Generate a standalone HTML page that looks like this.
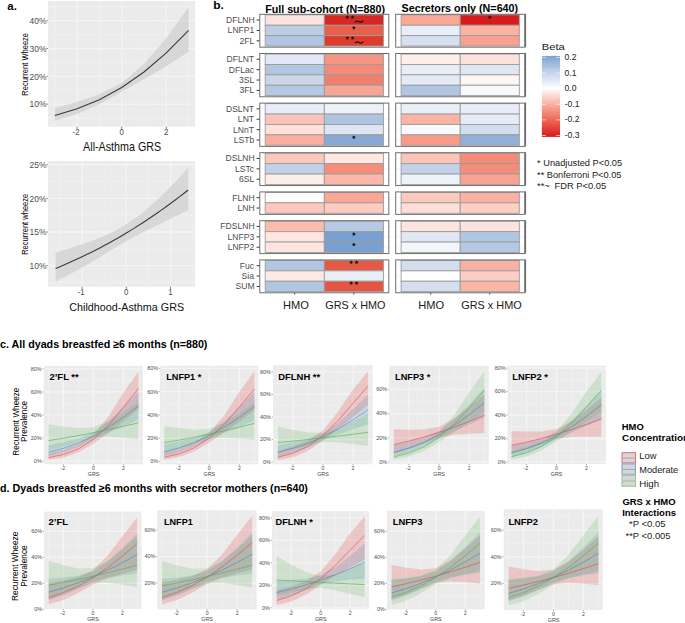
<!DOCTYPE html>
<html><head><meta charset="utf-8"><style>
html,body{margin:0;padding:0;background:#fff;width:685px;height:623px;overflow:hidden;}
svg{display:block;font-family:"Liberation Sans",sans-serif;}
</style></head><body>
<svg width="685" height="623" viewBox="0 0 685 623" font-family="Liberation Sans, sans-serif">
<rect x="48" y="1" width="147" height="125.7" fill="#EBEBEB"/>
<line x1="48" y1="118" x2="195" y2="118" stroke="#EFEFEF" stroke-width="1.3"/>
<line x1="48" y1="90.2" x2="195" y2="90.2" stroke="#EFEFEF" stroke-width="1.3"/>
<line x1="48" y1="62.4" x2="195" y2="62.4" stroke="#EFEFEF" stroke-width="1.3"/>
<line x1="48" y1="34.6" x2="195" y2="34.6" stroke="#EFEFEF" stroke-width="1.3"/>
<line x1="48" y1="6.8" x2="195" y2="6.8" stroke="#EFEFEF" stroke-width="1.3"/>
<line x1="54.8" y1="1" x2="54.8" y2="126.7" stroke="#EFEFEF" stroke-width="1.3"/>
<line x1="99.4" y1="1" x2="99.4" y2="126.7" stroke="#EFEFEF" stroke-width="1.3"/>
<line x1="144" y1="1" x2="144" y2="126.7" stroke="#EFEFEF" stroke-width="1.3"/>
<line x1="188.6" y1="1" x2="188.6" y2="126.7" stroke="#EFEFEF" stroke-width="1.3"/>
<line x1="48" y1="104.1" x2="195" y2="104.1" stroke="#F4F4F4" stroke-width="1.3"/>
<line x1="48" y1="76.3" x2="195" y2="76.3" stroke="#F4F4F4" stroke-width="1.3"/>
<line x1="48" y1="48.5" x2="195" y2="48.5" stroke="#F4F4F4" stroke-width="1.3"/>
<line x1="48" y1="20.7" x2="195" y2="20.7" stroke="#F4F4F4" stroke-width="1.3"/>
<line x1="77.1" y1="1" x2="77.1" y2="126.7" stroke="#F4F4F4" stroke-width="1.3"/>
<line x1="121.7" y1="1" x2="121.7" y2="126.7" stroke="#F4F4F4" stroke-width="1.3"/>
<line x1="166.3" y1="1" x2="166.3" y2="126.7" stroke="#F4F4F4" stroke-width="1.3"/>
<polygon points="54.8,108.12 77.1,102.08 99.4,94.32 121.7,82.89 144,64.01 166.3,37.99 188.6,7.01 188.6,51.76 166.3,66.2 144,79.28 121.7,91.84 99.4,104.31 77.1,114.09 54.8,120.69" fill="#D3D3D3" fill-opacity="0.85"/>
<polyline points="54.8,115.5 77.1,108.78 99.4,99.65 121.7,87.54 144,72 166.3,52.85 188.6,30.43" fill="none" stroke="#3A3A3A" stroke-width="1.1"/>
<line x1="46.7" y1="104.1" x2="48" y2="104.1" stroke="#333" stroke-width="0.6"/>
<text x="29.52" y="107.4" font-size="9.7" text-anchor="start" fill="#4D4D4D" textLength="16.89" lengthAdjust="spacingAndGlyphs">10%</text>
<line x1="46.7" y1="76.3" x2="48" y2="76.3" stroke="#333" stroke-width="0.6"/>
<text x="29.52" y="79.6" font-size="9.7" text-anchor="start" fill="#4D4D4D" textLength="16.89" lengthAdjust="spacingAndGlyphs">20%</text>
<line x1="46.7" y1="48.5" x2="48" y2="48.5" stroke="#333" stroke-width="0.6"/>
<text x="29.52" y="51.8" font-size="9.7" text-anchor="start" fill="#4D4D4D" textLength="16.89" lengthAdjust="spacingAndGlyphs">30%</text>
<line x1="46.7" y1="20.7" x2="48" y2="20.7" stroke="#333" stroke-width="0.6"/>
<text x="29.52" y="24" font-size="9.7" text-anchor="start" fill="#4D4D4D" textLength="16.89" lengthAdjust="spacingAndGlyphs">40%</text>
<line x1="77.1" y1="126.7" x2="77.1" y2="128.9" stroke="#333" stroke-width="0.6"/>
<text x="72.71" y="135.4" font-size="8.3" text-anchor="start" fill="#4D4D4D" textLength="7.01" lengthAdjust="spacingAndGlyphs">-2</text>
<line x1="121.7" y1="126.7" x2="121.7" y2="128.9" stroke="#333" stroke-width="0.6"/>
<text x="119.49" y="135.4" font-size="8.3" text-anchor="start" fill="#4D4D4D" textLength="4.39" lengthAdjust="spacingAndGlyphs">0</text>
<line x1="166.3" y1="126.7" x2="166.3" y2="128.9" stroke="#333" stroke-width="0.6"/>
<text x="164.11" y="135.4" font-size="8.3" text-anchor="start" fill="#4D4D4D" textLength="4.39" lengthAdjust="spacingAndGlyphs">2</text>
<text x="27.7" y="95.7" font-size="9" fill="#000" textLength="62.76" lengthAdjust="spacingAndGlyphs" transform="rotate(-90 27.7 95.7)">Recurrent Wheeze</text>
<text x="83.1" y="151" font-size="11.9" text-anchor="start" fill="#111" textLength="78.08" lengthAdjust="spacingAndGlyphs">All-Asthma GRS</text>
<text x="7.36" y="9.5" font-size="11.5" text-anchor="start" fill="#000" font-weight="bold" textLength="9.53" lengthAdjust="spacingAndGlyphs">a.</text>
<rect x="48" y="161" width="147" height="125.7" fill="#EBEBEB"/>
<line x1="48" y1="282.4" x2="195" y2="282.4" stroke="#EFEFEF" stroke-width="1.3"/>
<line x1="48" y1="248.8" x2="195" y2="248.8" stroke="#EFEFEF" stroke-width="1.3"/>
<line x1="48" y1="215.2" x2="195" y2="215.2" stroke="#EFEFEF" stroke-width="1.3"/>
<line x1="48" y1="181.6" x2="195" y2="181.6" stroke="#EFEFEF" stroke-width="1.3"/>
<line x1="60" y1="161" x2="60" y2="286.7" stroke="#EFEFEF" stroke-width="1.3"/>
<line x1="104.2" y1="161" x2="104.2" y2="286.7" stroke="#EFEFEF" stroke-width="1.3"/>
<line x1="148.4" y1="161" x2="148.4" y2="286.7" stroke="#EFEFEF" stroke-width="1.3"/>
<line x1="192.6" y1="161" x2="192.6" y2="286.7" stroke="#EFEFEF" stroke-width="1.3"/>
<line x1="48" y1="265.6" x2="195" y2="265.6" stroke="#F4F4F4" stroke-width="1.3"/>
<line x1="48" y1="232" x2="195" y2="232" stroke="#F4F4F4" stroke-width="1.3"/>
<line x1="48" y1="198.4" x2="195" y2="198.4" stroke="#F4F4F4" stroke-width="1.3"/>
<line x1="48" y1="164.8" x2="195" y2="164.8" stroke="#F4F4F4" stroke-width="1.3"/>
<line x1="82.1" y1="161" x2="82.1" y2="286.7" stroke="#F4F4F4" stroke-width="1.3"/>
<line x1="126.3" y1="161" x2="126.3" y2="286.7" stroke="#F4F4F4" stroke-width="1.3"/>
<line x1="170.5" y1="161" x2="170.5" y2="286.7" stroke="#F4F4F4" stroke-width="1.3"/>
<polygon points="55.58,252.76 60,251.45 64.42,250.1 68.84,248.73 73.26,247.31 77.68,245.86 82.1,244.36 86.52,242.81 90.94,241.2 95.36,239.52 99.78,237.76 104.2,235.89 108.62,233.9 113.04,231.77 117.46,229.46 121.88,226.96 126.3,224.24 130.72,221.31 135.14,218.19 139.56,214.88 143.98,211.39 148.4,207.71 152.82,203.86 157.24,199.84 161.66,195.66 166.08,191.33 170.5,186.84 174.92,182.2 179.34,177.43 183.76,172.52 188.18,167.47 188.18,210.2 183.76,212.34 179.34,214.47 174.92,216.6 170.5,218.73 166.08,220.86 161.66,223 157.24,225.16 152.82,227.33 148.4,229.54 143.98,231.78 139.56,234.07 135.14,236.4 130.72,238.79 126.3,241.24 121.88,243.75 117.46,246.35 113.04,249.01 108.62,251.71 104.2,254.42 99.78,257.13 95.36,259.82 90.94,262.46 86.52,265.06 82.1,267.59 77.68,270.07 73.26,272.47 68.84,274.81 64.42,277.08 60,279.27 55.58,281.39" fill="#D3D3D3" fill-opacity="0.85"/>
<polyline points="55.58,268.49 60,266.65 64.42,264.77 68.84,262.84 73.26,260.86 77.68,258.83 82.1,256.75 86.52,254.62 90.94,252.44 95.36,250.2 99.78,247.92 104.2,245.57 108.62,243.18 113.04,240.73 117.46,238.22 121.88,235.66 126.3,233.03 130.72,230.36 135.14,227.62 139.56,224.82 143.98,221.96 148.4,219.04 152.82,216.06 157.24,213.02 161.66,209.92 166.08,206.76 170.5,203.53 174.92,200.24 179.34,196.89 183.76,193.48 188.18,190" fill="none" stroke="#3A3A3A" stroke-width="1.1"/>
<line x1="46.7" y1="265.6" x2="48" y2="265.6" stroke="#333" stroke-width="0.6"/>
<text x="29.52" y="268.9" font-size="9.7" text-anchor="start" fill="#4D4D4D" textLength="16.89" lengthAdjust="spacingAndGlyphs">10%</text>
<line x1="46.7" y1="232" x2="48" y2="232" stroke="#333" stroke-width="0.6"/>
<text x="29.52" y="235.3" font-size="9.7" text-anchor="start" fill="#4D4D4D" textLength="16.89" lengthAdjust="spacingAndGlyphs">15%</text>
<line x1="46.7" y1="198.4" x2="48" y2="198.4" stroke="#333" stroke-width="0.6"/>
<text x="29.52" y="201.7" font-size="9.7" text-anchor="start" fill="#4D4D4D" textLength="16.89" lengthAdjust="spacingAndGlyphs">20%</text>
<line x1="46.7" y1="164.8" x2="48" y2="164.8" stroke="#333" stroke-width="0.6"/>
<text x="29.52" y="168.1" font-size="9.7" text-anchor="start" fill="#4D4D4D" textLength="16.89" lengthAdjust="spacingAndGlyphs">25%</text>
<line x1="82.1" y1="286.7" x2="82.1" y2="288.9" stroke="#333" stroke-width="0.6"/>
<text x="77.69" y="295.4" font-size="8.3" text-anchor="start" fill="#4D4D4D" textLength="7.01" lengthAdjust="spacingAndGlyphs">-1</text>
<line x1="126.3" y1="286.7" x2="126.3" y2="288.9" stroke="#333" stroke-width="0.6"/>
<text x="124.09" y="295.4" font-size="8.3" text-anchor="start" fill="#4D4D4D" textLength="4.39" lengthAdjust="spacingAndGlyphs">0</text>
<line x1="170.5" y1="286.7" x2="170.5" y2="288.9" stroke="#333" stroke-width="0.6"/>
<text x="168.19" y="295.4" font-size="8.3" text-anchor="start" fill="#4D4D4D" textLength="4.39" lengthAdjust="spacingAndGlyphs">1</text>
<text x="27.7" y="254.8" font-size="9" fill="#000" textLength="61.04" lengthAdjust="spacingAndGlyphs" transform="rotate(-90 27.7 254.8)">Recurrent wheeze</text>
<text x="69.26" y="311.3" font-size="11.3" text-anchor="start" fill="#111" textLength="114.84" lengthAdjust="spacingAndGlyphs">Childhood-Asthma GRS</text>
<text x="213.23" y="9.4" font-size="11.4" text-anchor="start" fill="#000" font-weight="bold" textLength="10.59" lengthAdjust="spacingAndGlyphs">b.</text>
<text x="265.2" y="12.5" font-size="11" text-anchor="start" fill="#000" font-weight="bold" textLength="119.78" lengthAdjust="spacingAndGlyphs">Full sub-cohort (N=880)</text>
<text x="401.58" y="12.2" font-size="11" text-anchor="start" fill="#000" font-weight="bold" textLength="116.52" lengthAdjust="spacingAndGlyphs">Secretors only (N=640)</text>
<rect x="259.3" y="13.8" width="130.02" height="33.28" fill="#FFFFFF"/>
<line x1="259.3" y1="20.04" x2="265.21" y2="20.04" stroke="#EBEBEB" stroke-width="0.5"/>
<line x1="383.41" y1="20.04" x2="389.32" y2="20.04" stroke="#EBEBEB" stroke-width="0.5"/>
<line x1="259.3" y1="30.44" x2="265.21" y2="30.44" stroke="#EBEBEB" stroke-width="0.5"/>
<line x1="383.41" y1="30.44" x2="389.32" y2="30.44" stroke="#EBEBEB" stroke-width="0.5"/>
<line x1="259.3" y1="40.84" x2="265.21" y2="40.84" stroke="#EBEBEB" stroke-width="0.5"/>
<line x1="383.41" y1="40.84" x2="389.32" y2="40.84" stroke="#EBEBEB" stroke-width="0.5"/>
<rect x="265.21" y="14.84" width="59.1" height="10.4" fill="#FDE3DD" stroke="#9C9C9C" stroke-width="0.9"/>
<rect x="324.31" y="14.84" width="59.1" height="10.4" fill="#DA2622" stroke="#9C9C9C" stroke-width="0.9"/>
<rect x="265.21" y="25.24" width="59.1" height="10.4" fill="#BCCDE5" stroke="#9C9C9C" stroke-width="0.9"/>
<rect x="324.31" y="25.24" width="59.1" height="10.4" fill="#E8604B" stroke="#9C9C9C" stroke-width="0.9"/>
<rect x="265.21" y="35.64" width="59.1" height="10.4" fill="#B2C6E2" stroke="#9C9C9C" stroke-width="0.9"/>
<rect x="324.31" y="35.64" width="59.1" height="10.4" fill="#DF3B2D" stroke="#9C9C9C" stroke-width="0.9"/>
<rect x="259.8" y="14.3" width="129.02" height="32.88" fill="none" stroke="#6E6E6E" stroke-width="1"/>
<polygon points="347.36,15.09 347.93,16.46 349.4,16.58 348.28,17.54 348.62,18.98 347.36,18.21 346.1,18.98 346.44,17.54 345.32,16.58 346.79,16.46" fill="#111"/>
<polygon points="352.56,15.09 353.13,16.46 354.6,16.58 353.48,17.54 353.82,18.98 352.56,18.21 351.3,18.98 351.64,17.54 350.52,16.58 351.99,16.46" fill="#111"/>
<path d="M355.06 22.36 C356.7 20.2 357.93 20.92 359.16 21.64 S362.03 22.84 363.26 20.68" fill="none" stroke="#111" stroke-width="1.25"/>
<polygon points="353.86,25.59 354.43,26.96 355.9,27.08 354.78,28.04 355.12,29.48 353.86,28.71 352.6,29.48 352.94,28.04 351.82,27.08 353.29,26.96" fill="#111"/>
<polygon points="347.36,35.89 347.93,37.26 349.4,37.38 348.28,38.34 348.62,39.78 347.36,39.01 346.1,39.78 346.44,38.34 345.32,37.38 346.79,37.26" fill="#111"/>
<polygon points="352.56,35.89 353.13,37.26 354.6,37.38 353.48,38.34 353.82,39.78 352.56,39.01 351.3,39.78 351.64,38.34 350.52,37.38 351.99,37.26" fill="#111"/>
<path d="M355.06 43.16 C356.7 41 357.93 41.72 359.16 42.44 S362.03 43.64 363.26 41.48" fill="none" stroke="#111" stroke-width="1.25"/>
<rect x="259.3" y="53" width="130.02" height="43.68" fill="#FFFFFF"/>
<line x1="259.3" y1="59.24" x2="265.21" y2="59.24" stroke="#EBEBEB" stroke-width="0.5"/>
<line x1="383.41" y1="59.24" x2="389.32" y2="59.24" stroke="#EBEBEB" stroke-width="0.5"/>
<line x1="259.3" y1="69.64" x2="265.21" y2="69.64" stroke="#EBEBEB" stroke-width="0.5"/>
<line x1="383.41" y1="69.64" x2="389.32" y2="69.64" stroke="#EBEBEB" stroke-width="0.5"/>
<line x1="259.3" y1="80.04" x2="265.21" y2="80.04" stroke="#EBEBEB" stroke-width="0.5"/>
<line x1="383.41" y1="80.04" x2="389.32" y2="80.04" stroke="#EBEBEB" stroke-width="0.5"/>
<line x1="259.3" y1="90.44" x2="265.21" y2="90.44" stroke="#EBEBEB" stroke-width="0.5"/>
<line x1="383.41" y1="90.44" x2="389.32" y2="90.44" stroke="#EBEBEB" stroke-width="0.5"/>
<rect x="265.21" y="54.04" width="59.1" height="10.4" fill="#E2E9F4" stroke="#9C9C9C" stroke-width="0.9"/>
<rect x="324.31" y="54.04" width="59.1" height="10.4" fill="#F59583" stroke="#9C9C9C" stroke-width="0.9"/>
<rect x="265.21" y="64.44" width="59.1" height="10.4" fill="#B2C6E2" stroke="#9C9C9C" stroke-width="0.9"/>
<rect x="324.31" y="64.44" width="59.1" height="10.4" fill="#F48A78" stroke="#9C9C9C" stroke-width="0.9"/>
<rect x="265.21" y="74.84" width="59.1" height="10.4" fill="#CAD7EB" stroke="#9C9C9C" stroke-width="0.9"/>
<rect x="324.31" y="74.84" width="59.1" height="10.4" fill="#F07F6D" stroke="#9C9C9C" stroke-width="0.9"/>
<rect x="265.21" y="85.24" width="59.1" height="10.4" fill="#B6C9E3" stroke="#9C9C9C" stroke-width="0.9"/>
<rect x="324.31" y="85.24" width="59.1" height="10.4" fill="#F8A596" stroke="#9C9C9C" stroke-width="0.9"/>
<rect x="259.8" y="53.5" width="129.02" height="43.28" fill="none" stroke="#6E6E6E" stroke-width="1"/>
<rect x="259.3" y="102.6" width="130.02" height="43.68" fill="#FFFFFF"/>
<line x1="259.3" y1="108.84" x2="265.21" y2="108.84" stroke="#EBEBEB" stroke-width="0.5"/>
<line x1="383.41" y1="108.84" x2="389.32" y2="108.84" stroke="#EBEBEB" stroke-width="0.5"/>
<line x1="259.3" y1="119.24" x2="265.21" y2="119.24" stroke="#EBEBEB" stroke-width="0.5"/>
<line x1="383.41" y1="119.24" x2="389.32" y2="119.24" stroke="#EBEBEB" stroke-width="0.5"/>
<line x1="259.3" y1="129.64" x2="265.21" y2="129.64" stroke="#EBEBEB" stroke-width="0.5"/>
<line x1="383.41" y1="129.64" x2="389.32" y2="129.64" stroke="#EBEBEB" stroke-width="0.5"/>
<line x1="259.3" y1="140.04" x2="265.21" y2="140.04" stroke="#EBEBEB" stroke-width="0.5"/>
<line x1="383.41" y1="140.04" x2="389.32" y2="140.04" stroke="#EBEBEB" stroke-width="0.5"/>
<rect x="265.21" y="103.64" width="59.1" height="10.4" fill="#E8EEF7" stroke="#9C9C9C" stroke-width="0.9"/>
<rect x="324.31" y="103.64" width="59.1" height="10.4" fill="#EEF1F8" stroke="#9C9C9C" stroke-width="0.9"/>
<rect x="265.21" y="114.04" width="59.1" height="10.4" fill="#FCC3B8" stroke="#9C9C9C" stroke-width="0.9"/>
<rect x="324.31" y="114.04" width="59.1" height="10.4" fill="#AFC4E2" stroke="#9C9C9C" stroke-width="0.9"/>
<rect x="265.21" y="124.44" width="59.1" height="10.4" fill="#FDE1DA" stroke="#9C9C9C" stroke-width="0.9"/>
<rect x="324.31" y="124.44" width="59.1" height="10.4" fill="#DFE6F3" stroke="#9C9C9C" stroke-width="0.9"/>
<rect x="265.21" y="134.84" width="59.1" height="10.4" fill="#FBAE9E" stroke="#9C9C9C" stroke-width="0.9"/>
<rect x="324.31" y="134.84" width="59.1" height="10.4" fill="#88A9D3" stroke="#9C9C9C" stroke-width="0.9"/>
<rect x="259.8" y="103.1" width="129.02" height="43.28" fill="none" stroke="#6E6E6E" stroke-width="1"/>
<polygon points="353.86,135.19 354.43,136.56 355.9,136.68 354.78,137.64 355.12,139.08 353.86,138.31 352.6,139.08 352.94,137.64 351.82,136.68 353.29,136.56" fill="#111"/>
<rect x="259.3" y="152.2" width="130.02" height="33.28" fill="#FFFFFF"/>
<line x1="259.3" y1="158.44" x2="265.21" y2="158.44" stroke="#EBEBEB" stroke-width="0.5"/>
<line x1="383.41" y1="158.44" x2="389.32" y2="158.44" stroke="#EBEBEB" stroke-width="0.5"/>
<line x1="259.3" y1="168.84" x2="265.21" y2="168.84" stroke="#EBEBEB" stroke-width="0.5"/>
<line x1="383.41" y1="168.84" x2="389.32" y2="168.84" stroke="#EBEBEB" stroke-width="0.5"/>
<line x1="259.3" y1="179.24" x2="265.21" y2="179.24" stroke="#EBEBEB" stroke-width="0.5"/>
<line x1="383.41" y1="179.24" x2="389.32" y2="179.24" stroke="#EBEBEB" stroke-width="0.5"/>
<rect x="265.21" y="153.24" width="59.1" height="10.4" fill="#FCC8BE" stroke="#9C9C9C" stroke-width="0.9"/>
<rect x="324.31" y="153.24" width="59.1" height="10.4" fill="#FEE7E1" stroke="#9C9C9C" stroke-width="0.9"/>
<rect x="265.21" y="163.64" width="59.1" height="10.4" fill="#C2D1E8" stroke="#9C9C9C" stroke-width="0.9"/>
<rect x="324.31" y="163.64" width="59.1" height="10.4" fill="#F58D7A" stroke="#9C9C9C" stroke-width="0.9"/>
<rect x="265.21" y="174.04" width="59.1" height="10.4" fill="#FEEEEA" stroke="#9C9C9C" stroke-width="0.9"/>
<rect x="324.31" y="174.04" width="59.1" height="10.4" fill="#FBB8AA" stroke="#9C9C9C" stroke-width="0.9"/>
<rect x="259.8" y="152.7" width="129.02" height="32.88" fill="none" stroke="#6E6E6E" stroke-width="1"/>
<rect x="259.3" y="191.4" width="130.02" height="22.88" fill="#FFFFFF"/>
<line x1="259.3" y1="197.64" x2="265.21" y2="197.64" stroke="#EBEBEB" stroke-width="0.5"/>
<line x1="383.41" y1="197.64" x2="389.32" y2="197.64" stroke="#EBEBEB" stroke-width="0.5"/>
<line x1="259.3" y1="208.04" x2="265.21" y2="208.04" stroke="#EBEBEB" stroke-width="0.5"/>
<line x1="383.41" y1="208.04" x2="389.32" y2="208.04" stroke="#EBEBEB" stroke-width="0.5"/>
<rect x="265.21" y="192.44" width="59.1" height="10.4" fill="#FEFDFD" stroke="#9C9C9C" stroke-width="0.9"/>
<rect x="324.31" y="192.44" width="59.1" height="10.4" fill="#FBA797" stroke="#9C9C9C" stroke-width="0.9"/>
<rect x="265.21" y="202.84" width="59.1" height="10.4" fill="#FCC8BE" stroke="#9C9C9C" stroke-width="0.9"/>
<rect x="324.31" y="202.84" width="59.1" height="10.4" fill="#FDCBC1" stroke="#9C9C9C" stroke-width="0.9"/>
<rect x="259.8" y="191.9" width="129.02" height="22.48" fill="none" stroke="#6E6E6E" stroke-width="1"/>
<rect x="259.3" y="220.2" width="130.02" height="33.28" fill="#FFFFFF"/>
<line x1="259.3" y1="226.44" x2="265.21" y2="226.44" stroke="#EBEBEB" stroke-width="0.5"/>
<line x1="383.41" y1="226.44" x2="389.32" y2="226.44" stroke="#EBEBEB" stroke-width="0.5"/>
<line x1="259.3" y1="236.84" x2="265.21" y2="236.84" stroke="#EBEBEB" stroke-width="0.5"/>
<line x1="383.41" y1="236.84" x2="389.32" y2="236.84" stroke="#EBEBEB" stroke-width="0.5"/>
<line x1="259.3" y1="247.24" x2="265.21" y2="247.24" stroke="#EBEBEB" stroke-width="0.5"/>
<line x1="383.41" y1="247.24" x2="389.32" y2="247.24" stroke="#EBEBEB" stroke-width="0.5"/>
<rect x="265.21" y="221.24" width="59.1" height="10.4" fill="#FBBCAE" stroke="#9C9C9C" stroke-width="0.9"/>
<rect x="324.31" y="221.24" width="59.1" height="10.4" fill="#B7CAE5" stroke="#9C9C9C" stroke-width="0.9"/>
<rect x="265.21" y="231.64" width="59.1" height="10.4" fill="#FEE7E2" stroke="#9C9C9C" stroke-width="0.9"/>
<rect x="324.31" y="231.64" width="59.1" height="10.4" fill="#78A0D1" stroke="#9C9C9C" stroke-width="0.9"/>
<rect x="265.21" y="242.04" width="59.1" height="10.4" fill="#FEE5E0" stroke="#9C9C9C" stroke-width="0.9"/>
<rect x="324.31" y="242.04" width="59.1" height="10.4" fill="#79A0D0" stroke="#9C9C9C" stroke-width="0.9"/>
<rect x="259.8" y="220.7" width="129.02" height="32.88" fill="none" stroke="#6E6E6E" stroke-width="1"/>
<polygon points="353.86,231.99 354.43,233.36 355.9,233.48 354.78,234.44 355.12,235.88 353.86,235.11 352.6,235.88 352.94,234.44 351.82,233.48 353.29,233.36" fill="#111"/>
<polygon points="353.86,242.39 354.43,243.76 355.9,243.88 354.78,244.84 355.12,246.28 353.86,245.51 352.6,246.28 352.94,244.84 351.82,243.88 353.29,243.76" fill="#111"/>
<rect x="259.3" y="259.4" width="130.02" height="33.28" fill="#FFFFFF"/>
<line x1="259.3" y1="265.64" x2="265.21" y2="265.64" stroke="#EBEBEB" stroke-width="0.5"/>
<line x1="383.41" y1="265.64" x2="389.32" y2="265.64" stroke="#EBEBEB" stroke-width="0.5"/>
<line x1="259.3" y1="276.04" x2="265.21" y2="276.04" stroke="#EBEBEB" stroke-width="0.5"/>
<line x1="383.41" y1="276.04" x2="389.32" y2="276.04" stroke="#EBEBEB" stroke-width="0.5"/>
<line x1="259.3" y1="286.44" x2="265.21" y2="286.44" stroke="#EBEBEB" stroke-width="0.5"/>
<line x1="383.41" y1="286.44" x2="389.32" y2="286.44" stroke="#EBEBEB" stroke-width="0.5"/>
<rect x="265.21" y="260.44" width="59.1" height="10.4" fill="#B1C6E3" stroke="#9C9C9C" stroke-width="0.9"/>
<rect x="324.31" y="260.44" width="59.1" height="10.4" fill="#E65A45" stroke="#9C9C9C" stroke-width="0.9"/>
<rect x="265.21" y="270.84" width="59.1" height="10.4" fill="#FEEAE5" stroke="#9C9C9C" stroke-width="0.9"/>
<rect x="324.31" y="270.84" width="59.1" height="10.4" fill="#E8EEF7" stroke="#9C9C9C" stroke-width="0.9"/>
<rect x="265.21" y="281.24" width="59.1" height="10.4" fill="#B1C6E3" stroke="#9C9C9C" stroke-width="0.9"/>
<rect x="324.31" y="281.24" width="59.1" height="10.4" fill="#E55542" stroke="#9C9C9C" stroke-width="0.9"/>
<rect x="259.8" y="259.9" width="129.02" height="32.88" fill="none" stroke="#6E6E6E" stroke-width="1"/>
<polygon points="351.16,260.19 351.73,261.56 353.2,261.68 352.08,262.64 352.42,264.08 351.16,263.31 349.9,264.08 350.24,262.64 349.12,261.68 350.59,261.56" fill="#111"/>
<polygon points="356.56,260.19 357.13,261.56 358.6,261.68 357.48,262.64 357.82,264.08 356.56,263.31 355.3,264.08 355.64,262.64 354.52,261.68 355.99,261.56" fill="#111"/>
<polygon points="351.16,280.99 351.73,282.36 353.2,282.48 352.08,283.44 352.42,284.88 351.16,284.11 349.9,284.88 350.24,283.44 349.12,282.48 350.59,282.36" fill="#111"/>
<polygon points="356.56,280.99 357.13,282.36 358.6,282.48 357.48,283.44 357.82,284.88 356.56,284.11 355.3,284.88 355.64,283.44 354.52,282.48 355.99,282.36" fill="#111"/>
<line x1="256.6" y1="20.04" x2="259.3" y2="20.04" stroke="#333" stroke-width="1"/>
<text x="226.05" y="22.94" font-size="8.4" text-anchor="start" fill="#4D4D4D" textLength="28.56" lengthAdjust="spacingAndGlyphs">DFLNH</text>
<line x1="256.6" y1="30.44" x2="259.3" y2="30.44" stroke="#333" stroke-width="1"/>
<text x="227.64" y="33.34" font-size="8.4" text-anchor="start" fill="#4D4D4D" textLength="26.67" lengthAdjust="spacingAndGlyphs">LNFP1</text>
<line x1="256.6" y1="40.84" x2="259.3" y2="40.84" stroke="#333" stroke-width="1"/>
<text x="239.42" y="43.74" font-size="8.4" text-anchor="start" fill="#4D4D4D" textLength="14.76" lengthAdjust="spacingAndGlyphs">2FL</text>
<line x1="256.6" y1="59.24" x2="259.3" y2="59.24" stroke="#333" stroke-width="1"/>
<text x="226.48" y="62.14" font-size="8.4" text-anchor="start" fill="#4D4D4D" textLength="27.61" lengthAdjust="spacingAndGlyphs">DFLNT</text>
<line x1="256.6" y1="69.64" x2="259.3" y2="69.64" stroke="#333" stroke-width="1"/>
<text x="228.88" y="72.54" font-size="8.4" text-anchor="start" fill="#4D4D4D" textLength="25.24" lengthAdjust="spacingAndGlyphs">DFLac</text>
<line x1="256.6" y1="80.04" x2="259.3" y2="80.04" stroke="#333" stroke-width="1"/>
<text x="238.91" y="82.94" font-size="8.4" text-anchor="start" fill="#4D4D4D" textLength="15.25" lengthAdjust="spacingAndGlyphs">3SL</text>
<line x1="256.6" y1="90.44" x2="259.3" y2="90.44" stroke="#333" stroke-width="1"/>
<text x="239.42" y="93.34" font-size="8.4" text-anchor="start" fill="#4D4D4D" textLength="14.76" lengthAdjust="spacingAndGlyphs">3FL</text>
<line x1="256.6" y1="108.84" x2="259.3" y2="108.84" stroke="#333" stroke-width="1"/>
<text x="225.97" y="111.74" font-size="8.4" text-anchor="start" fill="#4D4D4D" textLength="28.09" lengthAdjust="spacingAndGlyphs">DSLNT</text>
<line x1="256.6" y1="119.24" x2="259.3" y2="119.24" stroke="#333" stroke-width="1"/>
<text x="237.88" y="122.14" font-size="8.4" text-anchor="start" fill="#4D4D4D" textLength="16.19" lengthAdjust="spacingAndGlyphs">LNT</text>
<line x1="256.6" y1="129.64" x2="259.3" y2="129.64" stroke="#333" stroke-width="1"/>
<text x="233.12" y="132.54" font-size="8.4" text-anchor="start" fill="#4D4D4D" textLength="20.95" lengthAdjust="spacingAndGlyphs">LNnT</text>
<line x1="256.6" y1="140.04" x2="259.3" y2="140.04" stroke="#333" stroke-width="1"/>
<text x="233.77" y="142.94" font-size="8.4" text-anchor="start" fill="#4D4D4D" textLength="20.48" lengthAdjust="spacingAndGlyphs">LSTb</text>
<line x1="256.6" y1="158.44" x2="259.3" y2="158.44" stroke="#333" stroke-width="1"/>
<text x="225.54" y="161.34" font-size="8.4" text-anchor="start" fill="#4D4D4D" textLength="29.04" lengthAdjust="spacingAndGlyphs">DSLNH</text>
<line x1="256.6" y1="168.84" x2="259.3" y2="168.84" stroke="#333" stroke-width="1"/>
<text x="235.05" y="171.74" font-size="8.4" text-anchor="start" fill="#4D4D4D" textLength="19.05" lengthAdjust="spacingAndGlyphs">LSTc</text>
<line x1="256.6" y1="179.24" x2="259.3" y2="179.24" stroke="#333" stroke-width="1"/>
<text x="238.91" y="182.14" font-size="8.4" text-anchor="start" fill="#4D4D4D" textLength="15.25" lengthAdjust="spacingAndGlyphs">6SL</text>
<line x1="256.6" y1="197.64" x2="259.3" y2="197.64" stroke="#333" stroke-width="1"/>
<text x="232.22" y="200.54" font-size="8.4" text-anchor="start" fill="#4D4D4D" textLength="22.37" lengthAdjust="spacingAndGlyphs">FLNH</text>
<line x1="256.6" y1="208.04" x2="259.3" y2="208.04" stroke="#333" stroke-width="1"/>
<text x="237.45" y="210.94" font-size="8.4" text-anchor="start" fill="#4D4D4D" textLength="17.14" lengthAdjust="spacingAndGlyphs">LNH</text>
<line x1="256.6" y1="226.44" x2="259.3" y2="226.44" stroke="#333" stroke-width="1"/>
<text x="220.31" y="229.34" font-size="8.4" text-anchor="start" fill="#4D4D4D" textLength="34.28" lengthAdjust="spacingAndGlyphs">FDSLNH</text>
<line x1="256.6" y1="236.84" x2="259.3" y2="236.84" stroke="#333" stroke-width="1"/>
<text x="227.6" y="239.74" font-size="8.4" text-anchor="start" fill="#4D4D4D" textLength="26.67" lengthAdjust="spacingAndGlyphs">LNFP3</text>
<line x1="256.6" y1="247.24" x2="259.3" y2="247.24" stroke="#333" stroke-width="1"/>
<text x="227.68" y="250.14" font-size="8.4" text-anchor="start" fill="#4D4D4D" textLength="26.67" lengthAdjust="spacingAndGlyphs">LNFP2</text>
<line x1="256.6" y1="265.64" x2="259.3" y2="265.64" stroke="#333" stroke-width="1"/>
<text x="239.85" y="268.54" font-size="8.4" text-anchor="start" fill="#4D4D4D" textLength="14.28" lengthAdjust="spacingAndGlyphs">Fuc</text>
<line x1="256.6" y1="276.04" x2="259.3" y2="276.04" stroke="#333" stroke-width="1"/>
<text x="241.52" y="278.94" font-size="8.4" text-anchor="start" fill="#4D4D4D" textLength="12.38" lengthAdjust="spacingAndGlyphs">Sia</text>
<line x1="256.6" y1="286.44" x2="259.3" y2="286.44" stroke="#333" stroke-width="1"/>
<text x="235.56" y="289.34" font-size="8.4" text-anchor="start" fill="#4D4D4D" textLength="19.04" lengthAdjust="spacingAndGlyphs">SUM</text>
<rect x="395.2" y="13.8" width="130.02" height="33.28" fill="#FFFFFF"/>
<line x1="395.2" y1="20.04" x2="401.11" y2="20.04" stroke="#EBEBEB" stroke-width="0.5"/>
<line x1="519.31" y1="20.04" x2="525.22" y2="20.04" stroke="#EBEBEB" stroke-width="0.5"/>
<line x1="395.2" y1="30.44" x2="401.11" y2="30.44" stroke="#EBEBEB" stroke-width="0.5"/>
<line x1="519.31" y1="30.44" x2="525.22" y2="30.44" stroke="#EBEBEB" stroke-width="0.5"/>
<line x1="395.2" y1="40.84" x2="401.11" y2="40.84" stroke="#EBEBEB" stroke-width="0.5"/>
<line x1="519.31" y1="40.84" x2="525.22" y2="40.84" stroke="#EBEBEB" stroke-width="0.5"/>
<rect x="401.11" y="14.84" width="59.1" height="10.4" fill="#FBA897" stroke="#9C9C9C" stroke-width="0.9"/>
<rect x="460.21" y="14.84" width="59.1" height="10.4" fill="#D91A1C" stroke="#9C9C9C" stroke-width="0.9"/>
<rect x="401.11" y="25.24" width="59.1" height="10.4" fill="#E8EEF7" stroke="#9C9C9C" stroke-width="0.9"/>
<rect x="460.21" y="25.24" width="59.1" height="10.4" fill="#FCB2A3" stroke="#9C9C9C" stroke-width="0.9"/>
<rect x="401.11" y="35.64" width="59.1" height="10.4" fill="#D6E0EF" stroke="#9C9C9C" stroke-width="0.9"/>
<rect x="460.21" y="35.64" width="59.1" height="10.4" fill="#F9A08F" stroke="#9C9C9C" stroke-width="0.9"/>
<rect x="395.7" y="14.3" width="129.02" height="32.88" fill="none" stroke="#6E6E6E" stroke-width="1"/>
<line x1="525.52" y1="13.8" x2="525.52" y2="47.08" stroke="#6E6E6E" stroke-width="1.2"/>
<polygon points="489.76,15.19 490.33,16.56 491.8,16.68 490.68,17.64 491.02,19.08 489.76,18.31 488.5,19.08 488.84,17.64 487.72,16.68 489.19,16.56" fill="#111"/>
<rect x="395.2" y="53" width="130.02" height="43.68" fill="#FFFFFF"/>
<line x1="395.2" y1="59.24" x2="401.11" y2="59.24" stroke="#EBEBEB" stroke-width="0.5"/>
<line x1="519.31" y1="59.24" x2="525.22" y2="59.24" stroke="#EBEBEB" stroke-width="0.5"/>
<line x1="395.2" y1="69.64" x2="401.11" y2="69.64" stroke="#EBEBEB" stroke-width="0.5"/>
<line x1="519.31" y1="69.64" x2="525.22" y2="69.64" stroke="#EBEBEB" stroke-width="0.5"/>
<line x1="395.2" y1="80.04" x2="401.11" y2="80.04" stroke="#EBEBEB" stroke-width="0.5"/>
<line x1="519.31" y1="80.04" x2="525.22" y2="80.04" stroke="#EBEBEB" stroke-width="0.5"/>
<line x1="395.2" y1="90.44" x2="401.11" y2="90.44" stroke="#EBEBEB" stroke-width="0.5"/>
<line x1="519.31" y1="90.44" x2="525.22" y2="90.44" stroke="#EBEBEB" stroke-width="0.5"/>
<rect x="401.11" y="54.04" width="59.1" height="10.4" fill="#FEEFEB" stroke="#9C9C9C" stroke-width="0.9"/>
<rect x="460.21" y="54.04" width="59.1" height="10.4" fill="#FDE2DB" stroke="#9C9C9C" stroke-width="0.9"/>
<rect x="401.11" y="64.44" width="59.1" height="10.4" fill="#E8EEF7" stroke="#9C9C9C" stroke-width="0.9"/>
<rect x="460.21" y="64.44" width="59.1" height="10.4" fill="#DFE6F3" stroke="#9C9C9C" stroke-width="0.9"/>
<rect x="401.11" y="74.84" width="59.1" height="10.4" fill="#E4EBF5" stroke="#9C9C9C" stroke-width="0.9"/>
<rect x="460.21" y="74.84" width="59.1" height="10.4" fill="#FEF6F4" stroke="#9C9C9C" stroke-width="0.9"/>
<rect x="401.11" y="85.24" width="59.1" height="10.4" fill="#B1C6E2" stroke="#9C9C9C" stroke-width="0.9"/>
<rect x="460.21" y="85.24" width="59.1" height="10.4" fill="#F7F8FB" stroke="#9C9C9C" stroke-width="0.9"/>
<rect x="395.7" y="53.5" width="129.02" height="43.28" fill="none" stroke="#6E6E6E" stroke-width="1"/>
<line x1="525.52" y1="53" x2="525.52" y2="96.68" stroke="#6E6E6E" stroke-width="1.2"/>
<rect x="395.2" y="102.6" width="130.02" height="43.68" fill="#FFFFFF"/>
<line x1="395.2" y1="108.84" x2="401.11" y2="108.84" stroke="#EBEBEB" stroke-width="0.5"/>
<line x1="519.31" y1="108.84" x2="525.22" y2="108.84" stroke="#EBEBEB" stroke-width="0.5"/>
<line x1="395.2" y1="119.24" x2="401.11" y2="119.24" stroke="#EBEBEB" stroke-width="0.5"/>
<line x1="519.31" y1="119.24" x2="525.22" y2="119.24" stroke="#EBEBEB" stroke-width="0.5"/>
<line x1="395.2" y1="129.64" x2="401.11" y2="129.64" stroke="#EBEBEB" stroke-width="0.5"/>
<line x1="519.31" y1="129.64" x2="525.22" y2="129.64" stroke="#EBEBEB" stroke-width="0.5"/>
<line x1="395.2" y1="140.04" x2="401.11" y2="140.04" stroke="#EBEBEB" stroke-width="0.5"/>
<line x1="519.31" y1="140.04" x2="525.22" y2="140.04" stroke="#EBEBEB" stroke-width="0.5"/>
<rect x="401.11" y="103.64" width="59.1" height="10.4" fill="#EBF0F8" stroke="#9C9C9C" stroke-width="0.9"/>
<rect x="460.21" y="103.64" width="59.1" height="10.4" fill="#E8EDF7" stroke="#9C9C9C" stroke-width="0.9"/>
<rect x="401.11" y="114.04" width="59.1" height="10.4" fill="#FBB3A4" stroke="#9C9C9C" stroke-width="0.9"/>
<rect x="460.21" y="114.04" width="59.1" height="10.4" fill="#E6ECF6" stroke="#9C9C9C" stroke-width="0.9"/>
<rect x="401.11" y="124.44" width="59.1" height="10.4" fill="#F8FAFD" stroke="#9C9C9C" stroke-width="0.9"/>
<rect x="460.21" y="124.44" width="59.1" height="10.4" fill="#D2DDEE" stroke="#9C9C9C" stroke-width="0.9"/>
<rect x="401.11" y="134.84" width="59.1" height="10.4" fill="#F99A86" stroke="#9C9C9C" stroke-width="0.9"/>
<rect x="460.21" y="134.84" width="59.1" height="10.4" fill="#92AFD8" stroke="#9C9C9C" stroke-width="0.9"/>
<rect x="395.7" y="103.1" width="129.02" height="43.28" fill="none" stroke="#6E6E6E" stroke-width="1"/>
<line x1="525.52" y1="102.6" x2="525.52" y2="146.28" stroke="#6E6E6E" stroke-width="1.2"/>
<rect x="395.2" y="152.2" width="130.02" height="33.28" fill="#FFFFFF"/>
<line x1="395.2" y1="158.44" x2="401.11" y2="158.44" stroke="#EBEBEB" stroke-width="0.5"/>
<line x1="519.31" y1="158.44" x2="525.22" y2="158.44" stroke="#EBEBEB" stroke-width="0.5"/>
<line x1="395.2" y1="168.84" x2="401.11" y2="168.84" stroke="#EBEBEB" stroke-width="0.5"/>
<line x1="519.31" y1="168.84" x2="525.22" y2="168.84" stroke="#EBEBEB" stroke-width="0.5"/>
<line x1="395.2" y1="179.24" x2="401.11" y2="179.24" stroke="#EBEBEB" stroke-width="0.5"/>
<line x1="519.31" y1="179.24" x2="525.22" y2="179.24" stroke="#EBEBEB" stroke-width="0.5"/>
<rect x="401.11" y="153.24" width="59.1" height="10.4" fill="#FCC3B7" stroke="#9C9C9C" stroke-width="0.9"/>
<rect x="460.21" y="153.24" width="59.1" height="10.4" fill="#F58A77" stroke="#9C9C9C" stroke-width="0.9"/>
<rect x="401.11" y="163.64" width="59.1" height="10.4" fill="#C3D2E9" stroke="#9C9C9C" stroke-width="0.9"/>
<rect x="460.21" y="163.64" width="59.1" height="10.4" fill="#F58C79" stroke="#9C9C9C" stroke-width="0.9"/>
<rect x="401.11" y="174.04" width="59.1" height="10.4" fill="#EEF2F9" stroke="#9C9C9C" stroke-width="0.9"/>
<rect x="460.21" y="174.04" width="59.1" height="10.4" fill="#F8A291" stroke="#9C9C9C" stroke-width="0.9"/>
<rect x="395.7" y="152.7" width="129.02" height="32.88" fill="none" stroke="#6E6E6E" stroke-width="1"/>
<line x1="525.52" y1="152.2" x2="525.52" y2="185.48" stroke="#6E6E6E" stroke-width="1.2"/>
<rect x="395.2" y="191.4" width="130.02" height="22.88" fill="#FFFFFF"/>
<line x1="395.2" y1="197.64" x2="401.11" y2="197.64" stroke="#EBEBEB" stroke-width="0.5"/>
<line x1="519.31" y1="197.64" x2="525.22" y2="197.64" stroke="#EBEBEB" stroke-width="0.5"/>
<line x1="395.2" y1="208.04" x2="401.11" y2="208.04" stroke="#EBEBEB" stroke-width="0.5"/>
<line x1="519.31" y1="208.04" x2="525.22" y2="208.04" stroke="#EBEBEB" stroke-width="0.5"/>
<rect x="401.11" y="192.44" width="59.1" height="10.4" fill="#FCC9BF" stroke="#9C9C9C" stroke-width="0.9"/>
<rect x="460.21" y="192.44" width="59.1" height="10.4" fill="#FBB0A1" stroke="#9C9C9C" stroke-width="0.9"/>
<rect x="401.11" y="202.84" width="59.1" height="10.4" fill="#FDDFD8" stroke="#9C9C9C" stroke-width="0.9"/>
<rect x="460.21" y="202.84" width="59.1" height="10.4" fill="#FCCEC4" stroke="#9C9C9C" stroke-width="0.9"/>
<rect x="395.7" y="191.9" width="129.02" height="22.48" fill="none" stroke="#6E6E6E" stroke-width="1"/>
<line x1="525.52" y1="191.4" x2="525.52" y2="214.28" stroke="#6E6E6E" stroke-width="1.2"/>
<rect x="395.2" y="220.2" width="130.02" height="33.28" fill="#FFFFFF"/>
<line x1="395.2" y1="226.44" x2="401.11" y2="226.44" stroke="#EBEBEB" stroke-width="0.5"/>
<line x1="519.31" y1="226.44" x2="525.22" y2="226.44" stroke="#EBEBEB" stroke-width="0.5"/>
<line x1="395.2" y1="236.84" x2="401.11" y2="236.84" stroke="#EBEBEB" stroke-width="0.5"/>
<line x1="519.31" y1="236.84" x2="525.22" y2="236.84" stroke="#EBEBEB" stroke-width="0.5"/>
<line x1="395.2" y1="247.24" x2="401.11" y2="247.24" stroke="#EBEBEB" stroke-width="0.5"/>
<line x1="519.31" y1="247.24" x2="525.22" y2="247.24" stroke="#EBEBEB" stroke-width="0.5"/>
<rect x="401.11" y="221.24" width="59.1" height="10.4" fill="#FDE4DE" stroke="#9C9C9C" stroke-width="0.9"/>
<rect x="460.21" y="221.24" width="59.1" height="10.4" fill="#FDE3DD" stroke="#9C9C9C" stroke-width="0.9"/>
<rect x="401.11" y="231.64" width="59.1" height="10.4" fill="#E1E8F4" stroke="#9C9C9C" stroke-width="0.9"/>
<rect x="460.21" y="231.64" width="59.1" height="10.4" fill="#B1C6E3" stroke="#9C9C9C" stroke-width="0.9"/>
<rect x="401.11" y="242.04" width="59.1" height="10.4" fill="#F3F6FB" stroke="#9C9C9C" stroke-width="0.9"/>
<rect x="460.21" y="242.04" width="59.1" height="10.4" fill="#B5C9E4" stroke="#9C9C9C" stroke-width="0.9"/>
<rect x="395.7" y="220.7" width="129.02" height="32.88" fill="none" stroke="#6E6E6E" stroke-width="1"/>
<line x1="525.52" y1="220.2" x2="525.52" y2="253.48" stroke="#6E6E6E" stroke-width="1.2"/>
<rect x="395.2" y="259.4" width="130.02" height="33.28" fill="#FFFFFF"/>
<line x1="395.2" y1="265.64" x2="401.11" y2="265.64" stroke="#EBEBEB" stroke-width="0.5"/>
<line x1="519.31" y1="265.64" x2="525.22" y2="265.64" stroke="#EBEBEB" stroke-width="0.5"/>
<line x1="395.2" y1="276.04" x2="401.11" y2="276.04" stroke="#EBEBEB" stroke-width="0.5"/>
<line x1="519.31" y1="276.04" x2="525.22" y2="276.04" stroke="#EBEBEB" stroke-width="0.5"/>
<line x1="395.2" y1="286.44" x2="401.11" y2="286.44" stroke="#EBEBEB" stroke-width="0.5"/>
<line x1="519.31" y1="286.44" x2="525.22" y2="286.44" stroke="#EBEBEB" stroke-width="0.5"/>
<rect x="401.11" y="260.44" width="59.1" height="10.4" fill="#D2DDEE" stroke="#9C9C9C" stroke-width="0.9"/>
<rect x="460.21" y="260.44" width="59.1" height="10.4" fill="#FBB1A1" stroke="#9C9C9C" stroke-width="0.9"/>
<rect x="401.11" y="270.84" width="59.1" height="10.4" fill="#FEFEFE" stroke="#9C9C9C" stroke-width="0.9"/>
<rect x="460.21" y="270.84" width="59.1" height="10.4" fill="#FCCDC4" stroke="#9C9C9C" stroke-width="0.9"/>
<rect x="401.11" y="281.24" width="59.1" height="10.4" fill="#D4DEEF" stroke="#9C9C9C" stroke-width="0.9"/>
<rect x="460.21" y="281.24" width="59.1" height="10.4" fill="#FBB5A7" stroke="#9C9C9C" stroke-width="0.9"/>
<rect x="395.7" y="259.9" width="129.02" height="32.88" fill="none" stroke="#6E6E6E" stroke-width="1"/>
<line x1="525.52" y1="259.4" x2="525.52" y2="292.68" stroke="#6E6E6E" stroke-width="1.2"/>
<line x1="294.6" y1="292.6" x2="294.6" y2="294.6" stroke="#333" stroke-width="0.8"/>
<line x1="353.8" y1="292.6" x2="353.8" y2="294.6" stroke="#333" stroke-width="0.8"/>
<line x1="430.7" y1="292.6" x2="430.7" y2="294.6" stroke="#333" stroke-width="0.8"/>
<line x1="489.7" y1="292.6" x2="489.7" y2="294.6" stroke="#333" stroke-width="0.8"/>
<text x="282.91" y="308.9" font-size="10.9" text-anchor="start" fill="#1A1A1A" textLength="25.92" lengthAdjust="spacingAndGlyphs">HMO</text>
<text x="325.26" y="308.9" font-size="10.9" text-anchor="start" fill="#1A1A1A" textLength="60.24" lengthAdjust="spacingAndGlyphs">GRS x HMO</text>
<text x="418.21" y="308.9" font-size="10.9" text-anchor="start" fill="#1A1A1A" textLength="25.92" lengthAdjust="spacingAndGlyphs">HMO</text>
<text x="461.16" y="308.9" font-size="10.9" text-anchor="start" fill="#1A1A1A" textLength="60.54" lengthAdjust="spacingAndGlyphs">GRS x HMO</text>
<defs><linearGradient id="beta" x1="0" y1="1" x2="0" y2="0"><stop offset="0" stop-color="#D7191C"/><stop offset="0.2" stop-color="#EC6555"/><stop offset="0.4" stop-color="#F9AE9F"/><stop offset="0.6" stop-color="#FFFFFF"/><stop offset="0.8" stop-color="#C3D2E9"/><stop offset="1" stop-color="#7EA1D0"/></linearGradient></defs>
<rect x="541.9" y="55.9" width="18.1" height="81" fill="url(#beta)"/>
<text x="541.8" y="49.7" font-size="9.5" text-anchor="start" fill="#1A1A1A" textLength="23.02" lengthAdjust="spacingAndGlyphs">Beta</text>
<line x1="541.9" y1="57.4" x2="546" y2="57.4" stroke="#FFFFFF" stroke-width="0.6"/>
<line x1="556.2" y1="57.4" x2="560" y2="57.4" stroke="#FFFFFF" stroke-width="0.6"/>
<text x="564.56" y="59.9" font-size="8.8" text-anchor="start" fill="#1A1A1A" textLength="11.99" lengthAdjust="spacingAndGlyphs">0.2</text>
<line x1="541.9" y1="73.02" x2="546" y2="73.02" stroke="#FFFFFF" stroke-width="0.6"/>
<line x1="556.2" y1="73.02" x2="560" y2="73.02" stroke="#FFFFFF" stroke-width="0.6"/>
<text x="564.56" y="75.52" font-size="8.8" text-anchor="start" fill="#1A1A1A" textLength="11.99" lengthAdjust="spacingAndGlyphs">0.1</text>
<line x1="541.9" y1="88.64" x2="546" y2="88.64" stroke="#FFFFFF" stroke-width="0.6"/>
<line x1="556.2" y1="88.64" x2="560" y2="88.64" stroke="#FFFFFF" stroke-width="0.6"/>
<text x="564.56" y="91.14" font-size="8.8" text-anchor="start" fill="#1A1A1A" textLength="11.99" lengthAdjust="spacingAndGlyphs">0.0</text>
<line x1="541.9" y1="104.26" x2="546" y2="104.26" stroke="#FFFFFF" stroke-width="0.6"/>
<line x1="556.2" y1="104.26" x2="560" y2="104.26" stroke="#FFFFFF" stroke-width="0.6"/>
<text x="564.71" y="106.76" font-size="8.8" text-anchor="start" fill="#1A1A1A" textLength="14.86" lengthAdjust="spacingAndGlyphs">-0.1</text>
<line x1="541.9" y1="119.88" x2="546" y2="119.88" stroke="#FFFFFF" stroke-width="0.6"/>
<line x1="556.2" y1="119.88" x2="560" y2="119.88" stroke="#FFFFFF" stroke-width="0.6"/>
<text x="564.71" y="122.38" font-size="8.8" text-anchor="start" fill="#1A1A1A" textLength="14.86" lengthAdjust="spacingAndGlyphs">-0.2</text>
<line x1="541.9" y1="135.5" x2="546" y2="135.5" stroke="#FFFFFF" stroke-width="0.6"/>
<line x1="556.2" y1="135.5" x2="560" y2="135.5" stroke="#FFFFFF" stroke-width="0.6"/>
<text x="564.71" y="138" font-size="8.8" text-anchor="start" fill="#1A1A1A" textLength="14.86" lengthAdjust="spacingAndGlyphs">-0.3</text>
<text x="537.06" y="166.4" font-size="8.5" text-anchor="start" fill="#222" textLength="85.12" lengthAdjust="spacingAndGlyphs">* Unadjusted P&lt;0.05</text>
<text x="537.06" y="177.5" font-size="8.5" text-anchor="start" fill="#222" textLength="84.41" lengthAdjust="spacingAndGlyphs">** Bonferroni P&lt;0.05</text>
<text x="537.06" y="188.6" font-size="8.5" text-anchor="start" fill="#222" textLength="12.84" lengthAdjust="spacingAndGlyphs">**~</text>
<text x="554.45" y="188.6" font-size="8.5" text-anchor="start" fill="#222" textLength="51.73" lengthAdjust="spacingAndGlyphs">FDR P&lt;0.05</text>
<g>
<rect x="43.8" y="366" width="99.2" height="98.3" fill="#EBEBEB"/>
<clipPath id="cp378"><rect x="43.8" y="366" width="99.2" height="98.3"/></clipPath>
<line x1="43.8" y1="449.65" x2="143" y2="449.65" stroke="#F0F0F0" stroke-width="1"/>
<line x1="43.8" y1="426.55" x2="143" y2="426.55" stroke="#F0F0F0" stroke-width="1"/>
<line x1="43.8" y1="403.45" x2="143" y2="403.45" stroke="#F0F0F0" stroke-width="1"/>
<line x1="43.8" y1="380.35" x2="143" y2="380.35" stroke="#F0F0F0" stroke-width="1"/>
<line x1="48.5" y1="366" x2="48.5" y2="464.3" stroke="#F0F0F0" stroke-width="1"/>
<line x1="78.5" y1="366" x2="78.5" y2="464.3" stroke="#F0F0F0" stroke-width="1"/>
<line x1="108.5" y1="366" x2="108.5" y2="464.3" stroke="#F0F0F0" stroke-width="1"/>
<line x1="138.5" y1="366" x2="138.5" y2="464.3" stroke="#F0F0F0" stroke-width="1"/>
<line x1="43.8" y1="461.2" x2="143" y2="461.2" stroke="#F5F5F5" stroke-width="1.2"/>
<line x1="43.8" y1="438.1" x2="143" y2="438.1" stroke="#F5F5F5" stroke-width="1.2"/>
<line x1="43.8" y1="415" x2="143" y2="415" stroke="#F5F5F5" stroke-width="1.2"/>
<line x1="43.8" y1="391.9" x2="143" y2="391.9" stroke="#F5F5F5" stroke-width="1.2"/>
<line x1="43.8" y1="368.8" x2="143" y2="368.8" stroke="#F5F5F5" stroke-width="1.2"/>
<line x1="63.5" y1="366" x2="63.5" y2="464.3" stroke="#F5F5F5" stroke-width="1.2"/>
<line x1="93.5" y1="366" x2="93.5" y2="464.3" stroke="#F5F5F5" stroke-width="1.2"/>
<line x1="123.5" y1="366" x2="123.5" y2="464.3" stroke="#F5F5F5" stroke-width="1.2"/>
<g clip-path="url(#cp378)">
<polygon points="48.5,453.16 63.5,449.5 78.5,444.08 93.5,434.57 108.5,416.4 123.5,392.48 138.5,371.38 138.5,408.86 123.5,421.46 108.5,432.98 93.5,443.44 78.5,452.32 63.5,457.38 48.5,459.64" fill="#E41A1C" fill-opacity="0.18"/>
<polygon points="48.5,445.37 63.5,442.3 78.5,438.44 93.5,432.29 108.5,421.36 123.5,406.98 138.5,391.61 138.5,419.85 123.5,426.4 108.5,432.73 93.5,439.38 78.5,446.75 63.5,452.54 48.5,456.22" fill="#377EB8" fill-opacity="0.18"/>
<polygon points="48.5,424.14 63.5,426.41 78.5,428.01 93.5,427.21 108.5,421.26 123.5,412.13 138.5,401.81 138.5,439.35 123.5,437.84 108.5,436.75 93.5,437.51 78.5,441.76 63.5,446.71 48.5,450.77" fill="#4DAF4A" fill-opacity="0.18"/>
<polyline points="48.5,457.62 63.5,454.45 78.5,448.79 93.5,439.34 108.5,425.21 123.5,407.2 138.5,388.44" fill="none" stroke="#E6474C" stroke-width="0.62"/>
<polyline points="48.5,452.19 63.5,448.28 78.5,442.97 93.5,436.01 108.5,427.32 123.5,417.1 138.5,405.88" fill="none" stroke="#4A84BE" stroke-width="0.62"/>
<polyline points="48.5,440.64 63.5,438.2 78.5,435.54 93.5,432.67 108.5,429.59 123.5,426.31 138.5,422.85" fill="none" stroke="#52B04F" stroke-width="0.62"/>
</g>
<line x1="42.5" y1="461.2" x2="43.8" y2="461.2" stroke="#555" stroke-width="0.5"/>
<text x="33.88" y="463" font-size="5.15" text-anchor="start" fill="#4D4D4D" textLength="7.82" lengthAdjust="spacingAndGlyphs">0%</text>
<line x1="42.5" y1="438.1" x2="43.8" y2="438.1" stroke="#555" stroke-width="0.5"/>
<text x="30.87" y="439.9" font-size="5.15" text-anchor="start" fill="#4D4D4D" textLength="10.82" lengthAdjust="spacingAndGlyphs">20%</text>
<line x1="42.5" y1="415" x2="43.8" y2="415" stroke="#555" stroke-width="0.5"/>
<text x="30.87" y="416.8" font-size="5.15" text-anchor="start" fill="#4D4D4D" textLength="10.82" lengthAdjust="spacingAndGlyphs">40%</text>
<line x1="42.5" y1="391.9" x2="43.8" y2="391.9" stroke="#555" stroke-width="0.5"/>
<text x="30.87" y="393.7" font-size="5.15" text-anchor="start" fill="#4D4D4D" textLength="10.82" lengthAdjust="spacingAndGlyphs">60%</text>
<line x1="42.5" y1="368.8" x2="43.8" y2="368.8" stroke="#555" stroke-width="0.5"/>
<text x="30.87" y="370.6" font-size="5.15" text-anchor="start" fill="#4D4D4D" textLength="10.82" lengthAdjust="spacingAndGlyphs">80%</text>
<line x1="63.5" y1="464.3" x2="63.5" y2="465.6" stroke="#555" stroke-width="0.5"/>
<text x="60.6" y="470.1" font-size="5.2" text-anchor="start" fill="#4D4D4D" textLength="4.62" lengthAdjust="spacingAndGlyphs">-2</text>
<line x1="93.5" y1="464.3" x2="93.5" y2="465.6" stroke="#555" stroke-width="0.5"/>
<text x="92.04" y="470.1" font-size="5.2" text-anchor="start" fill="#4D4D4D" textLength="2.89" lengthAdjust="spacingAndGlyphs">0</text>
<line x1="123.5" y1="464.3" x2="123.5" y2="465.6" stroke="#555" stroke-width="0.5"/>
<text x="122.06" y="470.1" font-size="5.2" text-anchor="start" fill="#4D4D4D" textLength="2.89" lengthAdjust="spacingAndGlyphs">2</text>
<text x="87.73" y="476" font-size="6" text-anchor="start" fill="#444" textLength="11.62" lengthAdjust="spacingAndGlyphs">GRS</text>
<text x="49.47" y="380.1" font-size="8.84" text-anchor="start" fill="#000" font-weight="bold" textLength="29.27" lengthAdjust="spacingAndGlyphs">2’FL **</text>
</g>
<g>
<rect x="160.1" y="365.8" width="98.3" height="98.5" fill="#EBEBEB"/>
<clipPath id="cp424"><rect x="160.1" y="365.8" width="98.3" height="98.5"/></clipPath>
<line x1="160.1" y1="449.95" x2="258.4" y2="449.95" stroke="#F0F0F0" stroke-width="1"/>
<line x1="160.1" y1="426.65" x2="258.4" y2="426.65" stroke="#F0F0F0" stroke-width="1"/>
<line x1="160.1" y1="403.35" x2="258.4" y2="403.35" stroke="#F0F0F0" stroke-width="1"/>
<line x1="160.1" y1="380.05" x2="258.4" y2="380.05" stroke="#F0F0F0" stroke-width="1"/>
<line x1="164.15" y1="365.8" x2="164.15" y2="464.3" stroke="#F0F0F0" stroke-width="1"/>
<line x1="194.25" y1="365.8" x2="194.25" y2="464.3" stroke="#F0F0F0" stroke-width="1"/>
<line x1="224.35" y1="365.8" x2="224.35" y2="464.3" stroke="#F0F0F0" stroke-width="1"/>
<line x1="254.45" y1="365.8" x2="254.45" y2="464.3" stroke="#F0F0F0" stroke-width="1"/>
<line x1="160.1" y1="461.6" x2="258.4" y2="461.6" stroke="#F5F5F5" stroke-width="1.2"/>
<line x1="160.1" y1="438.3" x2="258.4" y2="438.3" stroke="#F5F5F5" stroke-width="1.2"/>
<line x1="160.1" y1="415" x2="258.4" y2="415" stroke="#F5F5F5" stroke-width="1.2"/>
<line x1="160.1" y1="391.7" x2="258.4" y2="391.7" stroke="#F5F5F5" stroke-width="1.2"/>
<line x1="160.1" y1="368.4" x2="258.4" y2="368.4" stroke="#F5F5F5" stroke-width="1.2"/>
<line x1="179.2" y1="365.8" x2="179.2" y2="464.3" stroke="#F5F5F5" stroke-width="1.2"/>
<line x1="209.3" y1="365.8" x2="209.3" y2="464.3" stroke="#F5F5F5" stroke-width="1.2"/>
<line x1="239.4" y1="365.8" x2="239.4" y2="464.3" stroke="#F5F5F5" stroke-width="1.2"/>
<g clip-path="url(#cp424)">
<polygon points="164.15,452.42 179.2,448.51 194.25,442.82 209.3,433.12 224.35,415.14 239.4,391.78 254.45,371.2 254.45,410.24 239.4,421.69 224.35,432.35 209.3,442.49 194.25,451.56 179.2,457.02 164.15,459.62" fill="#E41A1C" fill-opacity="0.18"/>
<polygon points="164.15,444.49 179.2,441.51 194.25,437.78 209.3,431.82 224.35,421.13 239.4,407.1 254.45,392.08 254.45,420.53 239.4,426.66 224.35,432.64 209.3,439.08 194.25,446.43 179.2,452.34 164.15,456.18" fill="#377EB8" fill-opacity="0.18"/>
<polygon points="164.15,425.88 179.2,428.11 194.25,429.69 209.3,428.8 224.35,422.59 239.4,413.14 254.45,402.4 254.45,439.77 239.4,438.58 224.35,437.82 209.3,438.86 194.25,443.37 179.2,448.41 164.15,452.4" fill="#4DAF4A" fill-opacity="0.18"/>
<polyline points="164.15,457.29 179.2,453.78 194.25,447.78 209.3,438.15 224.35,424.26 239.4,406.97 254.45,389.02" fill="none" stroke="#E6474C" stroke-width="0.62"/>
<polyline points="164.15,451.81 179.2,447.82 194.25,442.5 209.3,435.63 224.35,427.17 239.4,417.3 254.45,406.5" fill="none" stroke="#4A84BE" stroke-width="0.62"/>
<polyline points="164.15,442.61 179.2,440.05 194.25,437.23 209.3,434.15 224.35,430.8 239.4,427.21 254.45,423.39" fill="none" stroke="#52B04F" stroke-width="0.62"/>
</g>
<line x1="158.8" y1="461.6" x2="160.1" y2="461.6" stroke="#555" stroke-width="0.5"/>
<text x="150.18" y="463.4" font-size="5.15" text-anchor="start" fill="#4D4D4D" textLength="7.82" lengthAdjust="spacingAndGlyphs">0%</text>
<line x1="158.8" y1="438.3" x2="160.1" y2="438.3" stroke="#555" stroke-width="0.5"/>
<text x="147.17" y="440.1" font-size="5.15" text-anchor="start" fill="#4D4D4D" textLength="10.82" lengthAdjust="spacingAndGlyphs">20%</text>
<line x1="158.8" y1="415" x2="160.1" y2="415" stroke="#555" stroke-width="0.5"/>
<text x="147.17" y="416.8" font-size="5.15" text-anchor="start" fill="#4D4D4D" textLength="10.82" lengthAdjust="spacingAndGlyphs">40%</text>
<line x1="158.8" y1="391.7" x2="160.1" y2="391.7" stroke="#555" stroke-width="0.5"/>
<text x="147.17" y="393.5" font-size="5.15" text-anchor="start" fill="#4D4D4D" textLength="10.82" lengthAdjust="spacingAndGlyphs">60%</text>
<line x1="158.8" y1="368.4" x2="160.1" y2="368.4" stroke="#555" stroke-width="0.5"/>
<text x="147.17" y="370.2" font-size="5.15" text-anchor="start" fill="#4D4D4D" textLength="10.82" lengthAdjust="spacingAndGlyphs">80%</text>
<line x1="179.2" y1="464.3" x2="179.2" y2="465.6" stroke="#555" stroke-width="0.5"/>
<text x="176.3" y="470.1" font-size="5.2" text-anchor="start" fill="#4D4D4D" textLength="4.62" lengthAdjust="spacingAndGlyphs">-2</text>
<line x1="209.3" y1="464.3" x2="209.3" y2="465.6" stroke="#555" stroke-width="0.5"/>
<text x="207.84" y="470.1" font-size="5.2" text-anchor="start" fill="#4D4D4D" textLength="2.89" lengthAdjust="spacingAndGlyphs">0</text>
<line x1="239.4" y1="464.3" x2="239.4" y2="465.6" stroke="#555" stroke-width="0.5"/>
<text x="237.96" y="470.1" font-size="5.2" text-anchor="start" fill="#4D4D4D" textLength="2.89" lengthAdjust="spacingAndGlyphs">2</text>
<text x="203.53" y="476" font-size="6" text-anchor="start" fill="#444" textLength="11.62" lengthAdjust="spacingAndGlyphs">GRS</text>
<text x="166.21" y="380.3" font-size="8.84" text-anchor="start" fill="#000" font-weight="bold" textLength="35.03" lengthAdjust="spacingAndGlyphs">LNFP1 *</text>
</g>
<g>
<rect x="273" y="365.3" width="99.6" height="99" fill="#EBEBEB"/>
<clipPath id="cp470"><rect x="273" y="365.3" width="99.6" height="99"/></clipPath>
<line x1="273" y1="450.83" x2="372.6" y2="450.83" stroke="#F0F0F0" stroke-width="1"/>
<line x1="273" y1="428.28" x2="372.6" y2="428.28" stroke="#F0F0F0" stroke-width="1"/>
<line x1="273" y1="405.73" x2="372.6" y2="405.73" stroke="#F0F0F0" stroke-width="1"/>
<line x1="273" y1="383.18" x2="372.6" y2="383.18" stroke="#F0F0F0" stroke-width="1"/>
<line x1="277.75" y1="365.3" x2="277.75" y2="464.3" stroke="#F0F0F0" stroke-width="1"/>
<line x1="307.85" y1="365.3" x2="307.85" y2="464.3" stroke="#F0F0F0" stroke-width="1"/>
<line x1="337.95" y1="365.3" x2="337.95" y2="464.3" stroke="#F0F0F0" stroke-width="1"/>
<line x1="368.05" y1="365.3" x2="368.05" y2="464.3" stroke="#F0F0F0" stroke-width="1"/>
<line x1="273" y1="462.1" x2="372.6" y2="462.1" stroke="#F5F5F5" stroke-width="1.2"/>
<line x1="273" y1="439.55" x2="372.6" y2="439.55" stroke="#F5F5F5" stroke-width="1.2"/>
<line x1="273" y1="417" x2="372.6" y2="417" stroke="#F5F5F5" stroke-width="1.2"/>
<line x1="273" y1="394.45" x2="372.6" y2="394.45" stroke="#F5F5F5" stroke-width="1.2"/>
<line x1="273" y1="371.9" x2="372.6" y2="371.9" stroke="#F5F5F5" stroke-width="1.2"/>
<line x1="292.8" y1="365.3" x2="292.8" y2="464.3" stroke="#F5F5F5" stroke-width="1.2"/>
<line x1="322.9" y1="365.3" x2="322.9" y2="464.3" stroke="#F5F5F5" stroke-width="1.2"/>
<line x1="353" y1="365.3" x2="353" y2="464.3" stroke="#F5F5F5" stroke-width="1.2"/>
<g clip-path="url(#cp470)">
<polygon points="277.75,450.88 292.8,446.6 307.85,440.59 322.9,430.39 337.95,411.85 353,389.54 368.05,371.19 368.05,404.98 353,417.24 337.95,429.08 322.9,440.47 307.85,450.93 292.8,457.21 277.75,460.08" fill="#E41A1C" fill-opacity="0.18"/>
<polygon points="277.75,444.99 292.8,442.23 307.85,438.8 322.9,433.25 337.95,422.98 353,409.32 368.05,394.71 368.05,424.29 353,429.42 337.95,434.51 322.9,440.28 307.85,447.24 292.8,452.93 277.75,456.65" fill="#377EB8" fill-opacity="0.18"/>
<polygon points="277.75,426.04 292.8,429.64 307.85,432.49 322.9,432.98 337.95,428.7 353,421.57 368.05,413.16 368.05,445.9 353,443.97 337.95,442.27 322.9,442.11 307.85,445.22 292.8,449.17 277.75,452.5" fill="#4DAF4A" fill-opacity="0.18"/>
<polyline points="277.75,457.25 292.8,453.26 307.85,446.46 322.9,435.76 337.95,420.85 353,403.24 368.05,386.11" fill="none" stroke="#E6474C" stroke-width="0.62"/>
<polyline points="277.75,452.29 292.8,448.46 307.85,443.4 322.9,436.94 337.95,429.04 353,419.85 368.05,409.78" fill="none" stroke="#4A84BE" stroke-width="0.62"/>
<polyline points="277.75,442.59 292.8,441.1 307.85,439.52 322.9,437.86 337.95,436.1 353,434.26 368.05,432.33" fill="none" stroke="#52B04F" stroke-width="0.62"/>
</g>
<line x1="271.7" y1="462.1" x2="273" y2="462.1" stroke="#555" stroke-width="0.5"/>
<text x="263.08" y="463.9" font-size="5.15" text-anchor="start" fill="#4D4D4D" textLength="7.82" lengthAdjust="spacingAndGlyphs">0%</text>
<line x1="271.7" y1="439.55" x2="273" y2="439.55" stroke="#555" stroke-width="0.5"/>
<text x="260.07" y="441.35" font-size="5.15" text-anchor="start" fill="#4D4D4D" textLength="10.82" lengthAdjust="spacingAndGlyphs">20%</text>
<line x1="271.7" y1="417" x2="273" y2="417" stroke="#555" stroke-width="0.5"/>
<text x="260.07" y="418.8" font-size="5.15" text-anchor="start" fill="#4D4D4D" textLength="10.82" lengthAdjust="spacingAndGlyphs">40%</text>
<line x1="271.7" y1="394.45" x2="273" y2="394.45" stroke="#555" stroke-width="0.5"/>
<text x="260.07" y="396.25" font-size="5.15" text-anchor="start" fill="#4D4D4D" textLength="10.82" lengthAdjust="spacingAndGlyphs">60%</text>
<line x1="271.7" y1="371.9" x2="273" y2="371.9" stroke="#555" stroke-width="0.5"/>
<text x="260.07" y="373.7" font-size="5.15" text-anchor="start" fill="#4D4D4D" textLength="10.82" lengthAdjust="spacingAndGlyphs">80%</text>
<line x1="292.8" y1="464.3" x2="292.8" y2="465.6" stroke="#555" stroke-width="0.5"/>
<text x="289.9" y="470.1" font-size="5.2" text-anchor="start" fill="#4D4D4D" textLength="4.62" lengthAdjust="spacingAndGlyphs">-2</text>
<line x1="322.9" y1="464.3" x2="322.9" y2="465.6" stroke="#555" stroke-width="0.5"/>
<text x="321.44" y="470.1" font-size="5.2" text-anchor="start" fill="#4D4D4D" textLength="2.89" lengthAdjust="spacingAndGlyphs">0</text>
<line x1="353" y1="464.3" x2="353" y2="465.6" stroke="#555" stroke-width="0.5"/>
<text x="351.56" y="470.1" font-size="5.2" text-anchor="start" fill="#4D4D4D" textLength="2.89" lengthAdjust="spacingAndGlyphs">2</text>
<text x="317.13" y="476" font-size="6" text-anchor="start" fill="#444" textLength="11.62" lengthAdjust="spacingAndGlyphs">GRS</text>
<text x="278.29" y="380.1" font-size="8.84" text-anchor="start" fill="#000" font-weight="bold" textLength="41.85" lengthAdjust="spacingAndGlyphs">DFLNH **</text>
</g>
<g>
<rect x="389.2" y="365.8" width="99.6" height="98.1" fill="#EBEBEB"/>
<clipPath id="cp516"><rect x="389.2" y="365.8" width="99.6" height="98.1"/></clipPath>
<line x1="389.2" y1="449.98" x2="488.8" y2="449.98" stroke="#F0F0F0" stroke-width="1"/>
<line x1="389.2" y1="425.74" x2="488.8" y2="425.74" stroke="#F0F0F0" stroke-width="1"/>
<line x1="389.2" y1="401.5" x2="488.8" y2="401.5" stroke="#F0F0F0" stroke-width="1"/>
<line x1="389.2" y1="377.26" x2="488.8" y2="377.26" stroke="#F0F0F0" stroke-width="1"/>
<line x1="393.8" y1="365.8" x2="393.8" y2="463.9" stroke="#F0F0F0" stroke-width="1"/>
<line x1="424" y1="365.8" x2="424" y2="463.9" stroke="#F0F0F0" stroke-width="1"/>
<line x1="454.2" y1="365.8" x2="454.2" y2="463.9" stroke="#F0F0F0" stroke-width="1"/>
<line x1="484.4" y1="365.8" x2="484.4" y2="463.9" stroke="#F0F0F0" stroke-width="1"/>
<line x1="389.2" y1="462.1" x2="488.8" y2="462.1" stroke="#F5F5F5" stroke-width="1.2"/>
<line x1="389.2" y1="437.86" x2="488.8" y2="437.86" stroke="#F5F5F5" stroke-width="1.2"/>
<line x1="389.2" y1="413.62" x2="488.8" y2="413.62" stroke="#F5F5F5" stroke-width="1.2"/>
<line x1="389.2" y1="389.38" x2="488.8" y2="389.38" stroke="#F5F5F5" stroke-width="1.2"/>
<line x1="408.9" y1="365.8" x2="408.9" y2="463.9" stroke="#F5F5F5" stroke-width="1.2"/>
<line x1="439.1" y1="365.8" x2="439.1" y2="463.9" stroke="#F5F5F5" stroke-width="1.2"/>
<line x1="469.3" y1="365.8" x2="469.3" y2="463.9" stroke="#F5F5F5" stroke-width="1.2"/>
<g clip-path="url(#cp516)">
<polygon points="393.8,429.32 408.9,429.66 424,429.4 439.1,426.65 454.2,418.56 469.3,407.06 484.4,394.39 484.4,433.26 469.3,433.69 454.2,434.66 439.1,437.41 424,443.22 408.9,449.1 393.8,453.5" fill="#E41A1C" fill-opacity="0.18"/>
<polygon points="393.8,445.33 408.9,441.9 424,437.57 439.1,430.83 454.2,419.18 469.3,403.99 484.4,387.92 484.4,417.59 469.3,424.55 454.2,431.3 439.1,438.44 424,446.28 408.9,452.5 393.8,456.51" fill="#377EB8" fill-opacity="0.18"/>
<polygon points="393.8,451.67 408.9,447.59 424,441.75 439.1,432.08 454.2,414.74 469.3,392.04 484.4,371.16 484.4,411.69 469.3,422.28 454.2,432.21 439.1,441.93 424,450.88 408.9,456.62 393.8,459.56" fill="#4DAF4A" fill-opacity="0.18"/>
<polyline points="393.8,444.65 408.9,441.1 424,437.01 439.1,432.36 454.2,427.16 469.3,421.45 484.4,415.32" fill="none" stroke="#E6474C" stroke-width="0.62"/>
<polyline points="393.8,452.28 408.9,448.05 424,442.31 439.1,434.82 454.2,425.53 469.3,414.66 484.4,402.83" fill="none" stroke="#4A84BE" stroke-width="0.62"/>
<polyline points="393.8,456.89 408.9,453.09 424,446.89 439.1,437.37 454.2,424.02 469.3,407.54 484.4,390.11" fill="none" stroke="#52B04F" stroke-width="0.62"/>
</g>
<line x1="387.9" y1="462.1" x2="389.2" y2="462.1" stroke="#555" stroke-width="0.5"/>
<text x="379.28" y="463.9" font-size="5.15" text-anchor="start" fill="#4D4D4D" textLength="7.82" lengthAdjust="spacingAndGlyphs">0%</text>
<line x1="387.9" y1="437.86" x2="389.2" y2="437.86" stroke="#555" stroke-width="0.5"/>
<text x="376.27" y="439.66" font-size="5.15" text-anchor="start" fill="#4D4D4D" textLength="10.82" lengthAdjust="spacingAndGlyphs">20%</text>
<line x1="387.9" y1="413.62" x2="389.2" y2="413.62" stroke="#555" stroke-width="0.5"/>
<text x="376.27" y="415.42" font-size="5.15" text-anchor="start" fill="#4D4D4D" textLength="10.82" lengthAdjust="spacingAndGlyphs">40%</text>
<line x1="387.9" y1="389.38" x2="389.2" y2="389.38" stroke="#555" stroke-width="0.5"/>
<text x="376.27" y="391.18" font-size="5.15" text-anchor="start" fill="#4D4D4D" textLength="10.82" lengthAdjust="spacingAndGlyphs">60%</text>
<line x1="408.9" y1="463.9" x2="408.9" y2="465.2" stroke="#555" stroke-width="0.5"/>
<text x="406" y="469.7" font-size="5.2" text-anchor="start" fill="#4D4D4D" textLength="4.62" lengthAdjust="spacingAndGlyphs">-2</text>
<line x1="439.1" y1="463.9" x2="439.1" y2="465.2" stroke="#555" stroke-width="0.5"/>
<text x="437.64" y="469.7" font-size="5.2" text-anchor="start" fill="#4D4D4D" textLength="2.89" lengthAdjust="spacingAndGlyphs">0</text>
<line x1="469.3" y1="463.9" x2="469.3" y2="465.2" stroke="#555" stroke-width="0.5"/>
<text x="467.86" y="469.7" font-size="5.2" text-anchor="start" fill="#4D4D4D" textLength="2.89" lengthAdjust="spacingAndGlyphs">2</text>
<text x="433.33" y="475.6" font-size="6" text-anchor="start" fill="#444" textLength="11.62" lengthAdjust="spacingAndGlyphs">GRS</text>
<text x="395.1" y="380.1" font-size="8.84" text-anchor="start" fill="#000" font-weight="bold" textLength="35.23" lengthAdjust="spacingAndGlyphs">LNFP3 *</text>
</g>
<g>
<rect x="507.6" y="365.7" width="98.3" height="98.3" fill="#EBEBEB"/>
<clipPath id="cp559"><rect x="507.6" y="365.7" width="98.3" height="98.3"/></clipPath>
<line x1="507.6" y1="450.36" x2="605.9" y2="450.36" stroke="#F0F0F0" stroke-width="1"/>
<line x1="507.6" y1="426.88" x2="605.9" y2="426.88" stroke="#F0F0F0" stroke-width="1"/>
<line x1="507.6" y1="403.4" x2="605.9" y2="403.4" stroke="#F0F0F0" stroke-width="1"/>
<line x1="507.6" y1="379.92" x2="605.9" y2="379.92" stroke="#F0F0F0" stroke-width="1"/>
<line x1="511.5" y1="365.7" x2="511.5" y2="464" stroke="#F0F0F0" stroke-width="1"/>
<line x1="541.5" y1="365.7" x2="541.5" y2="464" stroke="#F0F0F0" stroke-width="1"/>
<line x1="571.5" y1="365.7" x2="571.5" y2="464" stroke="#F0F0F0" stroke-width="1"/>
<line x1="601.5" y1="365.7" x2="601.5" y2="464" stroke="#F0F0F0" stroke-width="1"/>
<line x1="507.6" y1="462.1" x2="605.9" y2="462.1" stroke="#F5F5F5" stroke-width="1.2"/>
<line x1="507.6" y1="438.62" x2="605.9" y2="438.62" stroke="#F5F5F5" stroke-width="1.2"/>
<line x1="507.6" y1="415.14" x2="605.9" y2="415.14" stroke="#F5F5F5" stroke-width="1.2"/>
<line x1="507.6" y1="391.66" x2="605.9" y2="391.66" stroke="#F5F5F5" stroke-width="1.2"/>
<line x1="507.6" y1="368.18" x2="605.9" y2="368.18" stroke="#F5F5F5" stroke-width="1.2"/>
<line x1="526.5" y1="365.7" x2="526.5" y2="464" stroke="#F5F5F5" stroke-width="1.2"/>
<line x1="556.5" y1="365.7" x2="556.5" y2="464" stroke="#F5F5F5" stroke-width="1.2"/>
<line x1="586.5" y1="365.7" x2="586.5" y2="464" stroke="#F5F5F5" stroke-width="1.2"/>
<g clip-path="url(#cp559)">
<polygon points="511.5,431.19 526.5,431.57 541.5,431.38 556.5,428.88 571.5,421.18 586.5,410 601.5,397.57 601.5,436.58 586.5,436.46 571.5,436.86 556.5,439.06 541.5,444.29 526.5,449.66 511.5,453.74" fill="#E41A1C" fill-opacity="0.18"/>
<polygon points="511.5,446.04 526.5,442.73 541.5,438.54 556.5,432.01 571.5,420.72 586.5,405.97 601.5,390.36 601.5,419.09 586.5,425.86 571.5,432.43 556.5,439.34 541.5,446.91 526.5,452.9 511.5,456.75" fill="#377EB8" fill-opacity="0.18"/>
<polygon points="511.5,451.32 526.5,447.11 541.5,441.13 556.5,431.3 571.5,413.86 586.5,391.57 601.5,371.79 601.5,411.45 586.5,421.72 571.5,431.5 556.5,441.27 541.5,450.47 526.5,456.41 511.5,459.46" fill="#4DAF4A" fill-opacity="0.18"/>
<polyline points="511.5,445.43 526.5,442.2 541.5,438.49 556.5,434.29 571.5,429.6 586.5,424.45 601.5,418.9" fill="none" stroke="#E6474C" stroke-width="0.62"/>
<polyline points="511.5,452.71 526.5,448.63 541.5,443.09 556.5,435.86 571.5,426.85 586.5,416.31 601.5,404.81" fill="none" stroke="#4A84BE" stroke-width="0.62"/>
<polyline points="511.5,456.7 526.5,452.77 541.5,446.38 556.5,436.64 571.5,423.18 586.5,406.88 601.5,390.02" fill="none" stroke="#52B04F" stroke-width="0.62"/>
</g>
<line x1="506.3" y1="462.1" x2="507.6" y2="462.1" stroke="#555" stroke-width="0.5"/>
<text x="497.68" y="463.9" font-size="5.15" text-anchor="start" fill="#4D4D4D" textLength="7.82" lengthAdjust="spacingAndGlyphs">0%</text>
<line x1="506.3" y1="438.62" x2="507.6" y2="438.62" stroke="#555" stroke-width="0.5"/>
<text x="494.67" y="440.42" font-size="5.15" text-anchor="start" fill="#4D4D4D" textLength="10.82" lengthAdjust="spacingAndGlyphs">20%</text>
<line x1="506.3" y1="415.14" x2="507.6" y2="415.14" stroke="#555" stroke-width="0.5"/>
<text x="494.67" y="416.94" font-size="5.15" text-anchor="start" fill="#4D4D4D" textLength="10.82" lengthAdjust="spacingAndGlyphs">40%</text>
<line x1="506.3" y1="391.66" x2="507.6" y2="391.66" stroke="#555" stroke-width="0.5"/>
<text x="494.67" y="393.46" font-size="5.15" text-anchor="start" fill="#4D4D4D" textLength="10.82" lengthAdjust="spacingAndGlyphs">60%</text>
<line x1="506.3" y1="368.18" x2="507.6" y2="368.18" stroke="#555" stroke-width="0.5"/>
<text x="494.67" y="369.98" font-size="5.15" text-anchor="start" fill="#4D4D4D" textLength="10.82" lengthAdjust="spacingAndGlyphs">80%</text>
<line x1="526.5" y1="464" x2="526.5" y2="465.3" stroke="#555" stroke-width="0.5"/>
<text x="523.6" y="469.8" font-size="5.2" text-anchor="start" fill="#4D4D4D" textLength="4.62" lengthAdjust="spacingAndGlyphs">-2</text>
<line x1="556.5" y1="464" x2="556.5" y2="465.3" stroke="#555" stroke-width="0.5"/>
<text x="555.04" y="469.8" font-size="5.2" text-anchor="start" fill="#4D4D4D" textLength="2.89" lengthAdjust="spacingAndGlyphs">0</text>
<line x1="586.5" y1="464" x2="586.5" y2="465.3" stroke="#555" stroke-width="0.5"/>
<text x="585.06" y="469.8" font-size="5.2" text-anchor="start" fill="#4D4D4D" textLength="2.89" lengthAdjust="spacingAndGlyphs">2</text>
<text x="550.73" y="475.7" font-size="6" text-anchor="start" fill="#444" textLength="11.62" lengthAdjust="spacingAndGlyphs">GRS</text>
<text x="512.3" y="380.3" font-size="8.84" text-anchor="start" fill="#000" font-weight="bold" textLength="35.64" lengthAdjust="spacingAndGlyphs">LNFP2 *</text>
</g>
<g>
<rect x="44.1" y="511.6" width="97.3" height="97.4" fill="#EBEBEB"/>
<clipPath id="cp605"><rect x="44.1" y="511.6" width="97.3" height="97.4"/></clipPath>
<line x1="44.1" y1="596.32" x2="141.4" y2="596.32" stroke="#F0F0F0" stroke-width="1"/>
<line x1="44.1" y1="570.36" x2="141.4" y2="570.36" stroke="#F0F0F0" stroke-width="1"/>
<line x1="44.1" y1="544.4" x2="141.4" y2="544.4" stroke="#F0F0F0" stroke-width="1"/>
<line x1="44.1" y1="518.44" x2="141.4" y2="518.44" stroke="#F0F0F0" stroke-width="1"/>
<line x1="48.65" y1="511.6" x2="48.65" y2="609" stroke="#F0F0F0" stroke-width="1"/>
<line x1="78.15" y1="511.6" x2="78.15" y2="609" stroke="#F0F0F0" stroke-width="1"/>
<line x1="107.65" y1="511.6" x2="107.65" y2="609" stroke="#F0F0F0" stroke-width="1"/>
<line x1="137.15" y1="511.6" x2="137.15" y2="609" stroke="#F0F0F0" stroke-width="1"/>
<line x1="44.1" y1="583.34" x2="141.4" y2="583.34" stroke="#F5F5F5" stroke-width="1.2"/>
<line x1="44.1" y1="557.38" x2="141.4" y2="557.38" stroke="#F5F5F5" stroke-width="1.2"/>
<line x1="44.1" y1="531.42" x2="141.4" y2="531.42" stroke="#F5F5F5" stroke-width="1.2"/>
<line x1="63.4" y1="511.6" x2="63.4" y2="609" stroke="#F5F5F5" stroke-width="1.2"/>
<line x1="92.9" y1="511.6" x2="92.9" y2="609" stroke="#F5F5F5" stroke-width="1.2"/>
<line x1="122.4" y1="511.6" x2="122.4" y2="609" stroke="#F5F5F5" stroke-width="1.2"/>
<g clip-path="url(#cp605)">
<polygon points="48.65,583.03 63.4,580.5 78.15,577.05 92.9,570.13 107.65,555.59 122.4,536.27 137.15,517.45 137.15,570.05 122.4,573.85 107.65,578.18 92.9,584.41 78.15,593.08 63.4,600.1 48.65,604.37" fill="#E41A1C" fill-opacity="0.18"/>
<polygon points="48.65,578.87 63.4,577.56 78.15,575.64 92.9,571.27 107.65,561.52 122.4,548.16 137.15,533.75 137.15,573.59 122.4,575.47 107.65,577.85 92.9,581.96 78.15,588.81 63.4,595.36 48.65,600.19" fill="#377EB8" fill-opacity="0.18"/>
<polygon points="48.65,560.69 63.4,565.13 78.15,568.5 92.9,568.31 107.65,560.88 122.4,549.16 137.15,536.12 137.15,587.19 122.4,584.69 107.65,582.66 92.9,583.06 78.15,588.2 63.4,594.24 48.65,599.02" fill="#4DAF4A" fill-opacity="0.18"/>
<polyline points="48.65,597.49 63.4,592.62 78.15,586.13 92.9,577.82 107.65,567.69 122.4,556.07 137.15,543.62" fill="none" stroke="#E6474C" stroke-width="0.62"/>
<polyline points="48.65,592.17 63.4,587.9 78.15,582.83 92.9,576.91 107.65,570.17 122.4,562.69 137.15,554.65" fill="none" stroke="#4A84BE" stroke-width="0.62"/>
<polyline points="48.65,585.29 63.4,582.5 78.15,579.48 92.9,576.22 107.65,572.75 122.4,569.06 137.15,565.17" fill="none" stroke="#52B04F" stroke-width="0.62"/>
</g>
<line x1="42.8" y1="609.3" x2="44.1" y2="609.3" stroke="#555" stroke-width="0.5"/>
<text x="34.18" y="611.1" font-size="5.15" text-anchor="start" fill="#4D4D4D" textLength="7.82" lengthAdjust="spacingAndGlyphs">0%</text>
<line x1="42.8" y1="583.34" x2="44.1" y2="583.34" stroke="#555" stroke-width="0.5"/>
<text x="31.17" y="585.14" font-size="5.15" text-anchor="start" fill="#4D4D4D" textLength="10.82" lengthAdjust="spacingAndGlyphs">20%</text>
<line x1="42.8" y1="557.38" x2="44.1" y2="557.38" stroke="#555" stroke-width="0.5"/>
<text x="31.17" y="559.18" font-size="5.15" text-anchor="start" fill="#4D4D4D" textLength="10.82" lengthAdjust="spacingAndGlyphs">40%</text>
<line x1="42.8" y1="531.42" x2="44.1" y2="531.42" stroke="#555" stroke-width="0.5"/>
<text x="31.17" y="533.22" font-size="5.15" text-anchor="start" fill="#4D4D4D" textLength="10.82" lengthAdjust="spacingAndGlyphs">60%</text>
<line x1="63.4" y1="609" x2="63.4" y2="610.3" stroke="#555" stroke-width="0.5"/>
<text x="60.5" y="614.8" font-size="5.2" text-anchor="start" fill="#4D4D4D" textLength="4.62" lengthAdjust="spacingAndGlyphs">-2</text>
<line x1="92.9" y1="609" x2="92.9" y2="610.3" stroke="#555" stroke-width="0.5"/>
<text x="91.44" y="614.8" font-size="5.2" text-anchor="start" fill="#4D4D4D" textLength="2.89" lengthAdjust="spacingAndGlyphs">0</text>
<line x1="122.4" y1="609" x2="122.4" y2="610.3" stroke="#555" stroke-width="0.5"/>
<text x="120.96" y="614.8" font-size="5.2" text-anchor="start" fill="#4D4D4D" textLength="2.89" lengthAdjust="spacingAndGlyphs">2</text>
<text x="87.13" y="620.7" font-size="6" text-anchor="start" fill="#444" textLength="11.62" lengthAdjust="spacingAndGlyphs">GRS</text>
<text x="48.47" y="524.7" font-size="9.57" text-anchor="start" fill="#000" font-weight="bold" textLength="19.63" lengthAdjust="spacingAndGlyphs">2’FL</text>
</g>
<g>
<rect x="157.4" y="510.1" width="99.2" height="99.2" fill="#EBEBEB"/>
<clipPath id="cp647"><rect x="157.4" y="510.1" width="99.2" height="99.2"/></clipPath>
<line x1="157.4" y1="596.4" x2="256.6" y2="596.4" stroke="#F0F0F0" stroke-width="1"/>
<line x1="157.4" y1="569.8" x2="256.6" y2="569.8" stroke="#F0F0F0" stroke-width="1"/>
<line x1="157.4" y1="543.2" x2="256.6" y2="543.2" stroke="#F0F0F0" stroke-width="1"/>
<line x1="157.4" y1="516.6" x2="256.6" y2="516.6" stroke="#F0F0F0" stroke-width="1"/>
<line x1="161.95" y1="510.1" x2="161.95" y2="609.3" stroke="#F0F0F0" stroke-width="1"/>
<line x1="192.05" y1="510.1" x2="192.05" y2="609.3" stroke="#F0F0F0" stroke-width="1"/>
<line x1="222.15" y1="510.1" x2="222.15" y2="609.3" stroke="#F0F0F0" stroke-width="1"/>
<line x1="252.25" y1="510.1" x2="252.25" y2="609.3" stroke="#F0F0F0" stroke-width="1"/>
<line x1="157.4" y1="583.1" x2="256.6" y2="583.1" stroke="#F5F5F5" stroke-width="1.2"/>
<line x1="157.4" y1="556.5" x2="256.6" y2="556.5" stroke="#F5F5F5" stroke-width="1.2"/>
<line x1="157.4" y1="529.9" x2="256.6" y2="529.9" stroke="#F5F5F5" stroke-width="1.2"/>
<line x1="177" y1="510.1" x2="177" y2="609.3" stroke="#F5F5F5" stroke-width="1.2"/>
<line x1="207.1" y1="510.1" x2="207.1" y2="609.3" stroke="#F5F5F5" stroke-width="1.2"/>
<line x1="237.2" y1="510.1" x2="237.2" y2="609.3" stroke="#F5F5F5" stroke-width="1.2"/>
<g clip-path="url(#cp647)">
<polygon points="161.95,582.27 177,579.75 192.05,576.29 207.1,569.28 222.15,554.5 237.2,534.85 252.25,515.69 252.25,569.6 237.2,573.36 222.15,577.68 207.1,583.99 192.05,592.86 177,600.1 161.95,604.53" fill="#E41A1C" fill-opacity="0.18"/>
<polygon points="161.95,578.73 177,577.42 192.05,575.5 207.1,571.08 222.15,561.17 237.2,547.56 252.25,532.82 252.25,573.54 237.2,575.43 222.15,577.81 207.1,581.96 192.05,588.9 177,595.54 161.95,600.44" fill="#377EB8" fill-opacity="0.18"/>
<polygon points="161.95,560.93 177,565.38 192.05,568.75 207.1,568.5 222.15,560.9 237.2,548.88 252.25,535.44 252.25,587.46 237.2,584.98 222.15,582.96 207.1,583.41 192.05,588.61 177,594.69 161.95,599.48" fill="#4DAF4A" fill-opacity="0.18"/>
<polyline points="161.95,597.33 177,592.31 192.05,585.67 207.1,577.2 222.15,566.91 237.2,555.14 252.25,542.54" fill="none" stroke="#E6474C" stroke-width="0.62"/>
<polyline points="161.95,592.28 177,587.96 192.05,582.82 207.1,576.82 222.15,569.99 237.2,562.41 252.25,554.24" fill="none" stroke="#4A84BE" stroke-width="0.62"/>
<polyline points="161.95,585.76 177,582.92 192.05,579.84 207.1,576.51 222.15,572.94 237.2,569.15 252.25,565.15" fill="none" stroke="#52B04F" stroke-width="0.62"/>
</g>
<line x1="156.1" y1="583.1" x2="157.4" y2="583.1" stroke="#555" stroke-width="0.5"/>
<text x="144.47" y="584.9" font-size="5.15" text-anchor="start" fill="#4D4D4D" textLength="10.82" lengthAdjust="spacingAndGlyphs">20%</text>
<line x1="156.1" y1="556.5" x2="157.4" y2="556.5" stroke="#555" stroke-width="0.5"/>
<text x="144.47" y="558.3" font-size="5.15" text-anchor="start" fill="#4D4D4D" textLength="10.82" lengthAdjust="spacingAndGlyphs">40%</text>
<line x1="156.1" y1="529.9" x2="157.4" y2="529.9" stroke="#555" stroke-width="0.5"/>
<text x="144.47" y="531.7" font-size="5.15" text-anchor="start" fill="#4D4D4D" textLength="10.82" lengthAdjust="spacingAndGlyphs">60%</text>
<line x1="177" y1="609.3" x2="177" y2="610.6" stroke="#555" stroke-width="0.5"/>
<text x="174.1" y="615.1" font-size="5.2" text-anchor="start" fill="#4D4D4D" textLength="4.62" lengthAdjust="spacingAndGlyphs">-2</text>
<line x1="207.1" y1="609.3" x2="207.1" y2="610.6" stroke="#555" stroke-width="0.5"/>
<text x="205.64" y="615.1" font-size="5.2" text-anchor="start" fill="#4D4D4D" textLength="2.89" lengthAdjust="spacingAndGlyphs">0</text>
<line x1="237.2" y1="609.3" x2="237.2" y2="610.6" stroke="#555" stroke-width="0.5"/>
<text x="235.76" y="615.1" font-size="5.2" text-anchor="start" fill="#4D4D4D" textLength="2.89" lengthAdjust="spacingAndGlyphs">2</text>
<text x="201.33" y="621" font-size="6" text-anchor="start" fill="#444" textLength="11.62" lengthAdjust="spacingAndGlyphs">GRS</text>
<text x="164.01" y="524.7" font-size="9.57" text-anchor="start" fill="#000" font-weight="bold" textLength="28.74" lengthAdjust="spacingAndGlyphs">LNFP1</text>
</g>
<g>
<rect x="272" y="511.2" width="97" height="98.1" fill="#EBEBEB"/>
<clipPath id="cp687"><rect x="272" y="511.2" width="97" height="98.1"/></clipPath>
<line x1="272" y1="596.55" x2="369" y2="596.55" stroke="#F0F0F0" stroke-width="1"/>
<line x1="272" y1="574.05" x2="369" y2="574.05" stroke="#F0F0F0" stroke-width="1"/>
<line x1="272" y1="551.55" x2="369" y2="551.55" stroke="#F0F0F0" stroke-width="1"/>
<line x1="272" y1="529.05" x2="369" y2="529.05" stroke="#F0F0F0" stroke-width="1"/>
<line x1="276.6" y1="511.2" x2="276.6" y2="609.3" stroke="#F0F0F0" stroke-width="1"/>
<line x1="306" y1="511.2" x2="306" y2="609.3" stroke="#F0F0F0" stroke-width="1"/>
<line x1="335.4" y1="511.2" x2="335.4" y2="609.3" stroke="#F0F0F0" stroke-width="1"/>
<line x1="364.8" y1="511.2" x2="364.8" y2="609.3" stroke="#F0F0F0" stroke-width="1"/>
<line x1="272" y1="607.8" x2="369" y2="607.8" stroke="#F5F5F5" stroke-width="1.2"/>
<line x1="272" y1="585.3" x2="369" y2="585.3" stroke="#F5F5F5" stroke-width="1.2"/>
<line x1="272" y1="562.8" x2="369" y2="562.8" stroke="#F5F5F5" stroke-width="1.2"/>
<line x1="272" y1="540.3" x2="369" y2="540.3" stroke="#F5F5F5" stroke-width="1.2"/>
<line x1="272" y1="517.8" x2="369" y2="517.8" stroke="#F5F5F5" stroke-width="1.2"/>
<line x1="291.3" y1="511.2" x2="291.3" y2="609.3" stroke="#F5F5F5" stroke-width="1.2"/>
<line x1="320.7" y1="511.2" x2="320.7" y2="609.3" stroke="#F5F5F5" stroke-width="1.2"/>
<line x1="350.1" y1="511.2" x2="350.1" y2="609.3" stroke="#F5F5F5" stroke-width="1.2"/>
<g clip-path="url(#cp687)">
<polygon points="276.6,590.46 291.3,586.36 306,580.93 320.7,571.58 335.4,554.12 350.1,533.26 364.8,516.28 364.8,559.57 350.1,567.45 335.4,575.43 320.7,584.55 306,594.66 291.3,601.52 276.6,604.99" fill="#E41A1C" fill-opacity="0.18"/>
<polygon points="276.6,580.72 291.3,579.93 306,578.64 320.7,575.26 335.4,567.18 350.1,555.94 364.8,543.69 364.8,578.83 350.1,579.87 335.4,581.36 320.7,584.43 306,590.04 291.3,595.53 276.6,599.64" fill="#377EB8" fill-opacity="0.18"/>
<polygon points="276.6,556.03 291.3,564.77 306,572.12 320.7,576.02 335.4,574.15 350.1,569.24 364.8,563.17 364.8,597.35 350.1,594.02 335.4,590.29 320.7,587.81 306,589.19 291.3,592.23 276.6,595.19" fill="#4DAF4A" fill-opacity="0.18"/>
<polyline points="276.6,600.6 291.3,595.92 306,588.76 320.7,578.53 335.4,565.3 350.1,550.23 364.8,535.35" fill="none" stroke="#E6474C" stroke-width="0.62"/>
<polyline points="276.6,592.5 291.3,588.99 306,584.86 320.7,580.1 335.4,574.71 350.1,568.76 364.8,562.35" fill="none" stroke="#4A84BE" stroke-width="0.62"/>
<polyline points="276.6,580.01 291.3,580.82 306,581.62 320.7,582.39 335.4,583.15 350.1,583.9 364.8,584.62" fill="none" stroke="#52B04F" stroke-width="0.62"/>
</g>
<line x1="270.7" y1="607.8" x2="272" y2="607.8" stroke="#555" stroke-width="0.5"/>
<text x="262.08" y="609.6" font-size="5.15" text-anchor="start" fill="#4D4D4D" textLength="7.82" lengthAdjust="spacingAndGlyphs">0%</text>
<line x1="270.7" y1="585.3" x2="272" y2="585.3" stroke="#555" stroke-width="0.5"/>
<text x="259.07" y="587.1" font-size="5.15" text-anchor="start" fill="#4D4D4D" textLength="10.82" lengthAdjust="spacingAndGlyphs">20%</text>
<line x1="270.7" y1="562.8" x2="272" y2="562.8" stroke="#555" stroke-width="0.5"/>
<text x="259.07" y="564.6" font-size="5.15" text-anchor="start" fill="#4D4D4D" textLength="10.82" lengthAdjust="spacingAndGlyphs">40%</text>
<line x1="270.7" y1="540.3" x2="272" y2="540.3" stroke="#555" stroke-width="0.5"/>
<text x="259.07" y="542.1" font-size="5.15" text-anchor="start" fill="#4D4D4D" textLength="10.82" lengthAdjust="spacingAndGlyphs">60%</text>
<line x1="270.7" y1="517.8" x2="272" y2="517.8" stroke="#555" stroke-width="0.5"/>
<text x="259.07" y="519.6" font-size="5.15" text-anchor="start" fill="#4D4D4D" textLength="10.82" lengthAdjust="spacingAndGlyphs">80%</text>
<line x1="291.3" y1="609.3" x2="291.3" y2="610.6" stroke="#555" stroke-width="0.5"/>
<text x="288.4" y="615.1" font-size="5.2" text-anchor="start" fill="#4D4D4D" textLength="4.62" lengthAdjust="spacingAndGlyphs">-2</text>
<line x1="320.7" y1="609.3" x2="320.7" y2="610.6" stroke="#555" stroke-width="0.5"/>
<text x="319.24" y="615.1" font-size="5.2" text-anchor="start" fill="#4D4D4D" textLength="2.89" lengthAdjust="spacingAndGlyphs">0</text>
<line x1="350.1" y1="609.3" x2="350.1" y2="610.6" stroke="#555" stroke-width="0.5"/>
<text x="348.66" y="615.1" font-size="5.2" text-anchor="start" fill="#4D4D4D" textLength="2.89" lengthAdjust="spacingAndGlyphs">2</text>
<text x="314.93" y="621" font-size="6" text-anchor="start" fill="#444" textLength="11.62" lengthAdjust="spacingAndGlyphs">GRS</text>
<text x="275.5" y="524.7" font-size="9.42" text-anchor="start" fill="#000" font-weight="bold" textLength="37.45" lengthAdjust="spacingAndGlyphs">DFLNH *</text>
</g>
<g>
<rect x="387" y="510.8" width="97.7" height="98.5" fill="#EBEBEB"/>
<clipPath id="cp733"><rect x="387" y="510.8" width="97.7" height="98.5"/></clipPath>
<line x1="387" y1="596.35" x2="484.7" y2="596.35" stroke="#F0F0F0" stroke-width="1"/>
<line x1="387" y1="570.25" x2="484.7" y2="570.25" stroke="#F0F0F0" stroke-width="1"/>
<line x1="387" y1="544.15" x2="484.7" y2="544.15" stroke="#F0F0F0" stroke-width="1"/>
<line x1="387" y1="518.05" x2="484.7" y2="518.05" stroke="#F0F0F0" stroke-width="1"/>
<line x1="391.55" y1="510.8" x2="391.55" y2="609.3" stroke="#F0F0F0" stroke-width="1"/>
<line x1="421.05" y1="510.8" x2="421.05" y2="609.3" stroke="#F0F0F0" stroke-width="1"/>
<line x1="450.55" y1="510.8" x2="450.55" y2="609.3" stroke="#F0F0F0" stroke-width="1"/>
<line x1="480.05" y1="510.8" x2="480.05" y2="609.3" stroke="#F0F0F0" stroke-width="1"/>
<line x1="387" y1="583.3" x2="484.7" y2="583.3" stroke="#F5F5F5" stroke-width="1.2"/>
<line x1="387" y1="557.2" x2="484.7" y2="557.2" stroke="#F5F5F5" stroke-width="1.2"/>
<line x1="387" y1="531.1" x2="484.7" y2="531.1" stroke="#F5F5F5" stroke-width="1.2"/>
<line x1="406.3" y1="510.8" x2="406.3" y2="609.3" stroke="#F5F5F5" stroke-width="1.2"/>
<line x1="435.8" y1="510.8" x2="435.8" y2="609.3" stroke="#F5F5F5" stroke-width="1.2"/>
<line x1="465.3" y1="510.8" x2="465.3" y2="609.3" stroke="#F5F5F5" stroke-width="1.2"/>
<g clip-path="url(#cp733)">
<polygon points="391.55,564.98 406.3,567.77 421.05,569.59 435.8,568.14 450.55,560.33 465.3,548.54 480.05,535.43 480.05,583.81 465.3,582.34 450.55,581.51 435.8,582.98 421.05,588.42 406.3,594.53 391.55,599.33" fill="#E41A1C" fill-opacity="0.18"/>
<polygon points="391.55,580.04 406.3,578.39 421.05,576.11 435.8,571.34 450.55,561.07 465.3,547.12 480.05,532.14 480.05,572.42 465.3,574.75 450.55,577.55 435.8,582.05 421.05,589.17 406.3,595.84 391.55,600.68" fill="#377EB8" fill-opacity="0.18"/>
<polygon points="391.55,579.37 406.3,577.91 421.05,575.67 435.8,569.63 450.55,554.92 465.3,535.34 480.05,516.41 480.05,570.38 465.3,573.89 450.55,577.97 435.8,584.09 421.05,593.35 406.3,600.71 391.55,604.97" fill="#4DAF4A" fill-opacity="0.18"/>
<polyline points="391.55,586.95 406.3,583.68 421.05,580.07 435.8,576.1 450.55,571.8 465.3,567.18 480.05,562.29" fill="none" stroke="#E6474C" stroke-width="0.62"/>
<polyline points="391.55,592.96 406.3,588.56 421.05,583.25 435.8,576.99 450.55,569.8 465.3,561.78 480.05,553.15" fill="none" stroke="#4A84BE" stroke-width="0.62"/>
<polyline points="391.55,597.26 406.3,592.32 421.05,585.77 435.8,577.41 450.55,567.26 465.3,555.65 480.05,543.24" fill="none" stroke="#52B04F" stroke-width="0.62"/>
</g>
<line x1="385.7" y1="609.4" x2="387" y2="609.4" stroke="#555" stroke-width="0.5"/>
<text x="377.08" y="611.2" font-size="5.15" text-anchor="start" fill="#4D4D4D" textLength="7.82" lengthAdjust="spacingAndGlyphs">0%</text>
<line x1="385.7" y1="583.3" x2="387" y2="583.3" stroke="#555" stroke-width="0.5"/>
<text x="374.07" y="585.1" font-size="5.15" text-anchor="start" fill="#4D4D4D" textLength="10.82" lengthAdjust="spacingAndGlyphs">20%</text>
<line x1="385.7" y1="557.2" x2="387" y2="557.2" stroke="#555" stroke-width="0.5"/>
<text x="374.07" y="559" font-size="5.15" text-anchor="start" fill="#4D4D4D" textLength="10.82" lengthAdjust="spacingAndGlyphs">40%</text>
<line x1="385.7" y1="531.1" x2="387" y2="531.1" stroke="#555" stroke-width="0.5"/>
<text x="374.07" y="532.9" font-size="5.15" text-anchor="start" fill="#4D4D4D" textLength="10.82" lengthAdjust="spacingAndGlyphs">60%</text>
<line x1="406.3" y1="609.3" x2="406.3" y2="610.6" stroke="#555" stroke-width="0.5"/>
<text x="403.4" y="615.1" font-size="5.2" text-anchor="start" fill="#4D4D4D" textLength="4.62" lengthAdjust="spacingAndGlyphs">-2</text>
<line x1="435.8" y1="609.3" x2="435.8" y2="610.6" stroke="#555" stroke-width="0.5"/>
<text x="434.34" y="615.1" font-size="5.2" text-anchor="start" fill="#4D4D4D" textLength="2.89" lengthAdjust="spacingAndGlyphs">0</text>
<line x1="465.3" y1="609.3" x2="465.3" y2="610.6" stroke="#555" stroke-width="0.5"/>
<text x="463.86" y="615.1" font-size="5.2" text-anchor="start" fill="#4D4D4D" textLength="2.89" lengthAdjust="spacingAndGlyphs">2</text>
<text x="430.03" y="621" font-size="6" text-anchor="start" fill="#444" textLength="11.62" lengthAdjust="spacingAndGlyphs">GRS</text>
<text x="392.69" y="524.7" font-size="9.42" text-anchor="start" fill="#000" font-weight="bold" textLength="29.86" lengthAdjust="spacingAndGlyphs">LNFP3</text>
</g>
<g>
<rect x="503.8" y="509.3" width="99" height="100.7" fill="#EBEBEB"/>
<clipPath id="cp775"><rect x="503.8" y="509.3" width="99" height="100.7"/></clipPath>
<line x1="503.8" y1="596.85" x2="602.8" y2="596.85" stroke="#F0F0F0" stroke-width="1"/>
<line x1="503.8" y1="570.15" x2="602.8" y2="570.15" stroke="#F0F0F0" stroke-width="1"/>
<line x1="503.8" y1="543.45" x2="602.8" y2="543.45" stroke="#F0F0F0" stroke-width="1"/>
<line x1="503.8" y1="516.75" x2="602.8" y2="516.75" stroke="#F0F0F0" stroke-width="1"/>
<line x1="508.5" y1="509.3" x2="508.5" y2="610" stroke="#F0F0F0" stroke-width="1"/>
<line x1="538.5" y1="509.3" x2="538.5" y2="610" stroke="#F0F0F0" stroke-width="1"/>
<line x1="568.5" y1="509.3" x2="568.5" y2="610" stroke="#F0F0F0" stroke-width="1"/>
<line x1="598.5" y1="509.3" x2="598.5" y2="610" stroke="#F0F0F0" stroke-width="1"/>
<line x1="503.8" y1="583.5" x2="602.8" y2="583.5" stroke="#F5F5F5" stroke-width="1.2"/>
<line x1="503.8" y1="556.8" x2="602.8" y2="556.8" stroke="#F5F5F5" stroke-width="1.2"/>
<line x1="503.8" y1="530.1" x2="602.8" y2="530.1" stroke="#F5F5F5" stroke-width="1.2"/>
<line x1="523.5" y1="509.3" x2="523.5" y2="610" stroke="#F5F5F5" stroke-width="1.2"/>
<line x1="553.5" y1="509.3" x2="553.5" y2="610" stroke="#F5F5F5" stroke-width="1.2"/>
<line x1="583.5" y1="509.3" x2="583.5" y2="610" stroke="#F5F5F5" stroke-width="1.2"/>
<g clip-path="url(#cp775)">
<polygon points="508.5,566.46 523.5,569.23 538.5,571.03 553.5,569.55 568.5,561.68 583.5,549.71 598.5,536.25 598.5,585.11 583.5,583.66 568.5,582.86 553.5,584.34 538.5,589.72 523.5,595.74 508.5,600.43" fill="#E41A1C" fill-opacity="0.18"/>
<polygon points="508.5,580.16 523.5,578.57 538.5,576.35 553.5,571.6 568.5,561.27 583.5,547.16 598.5,531.96 598.5,573.03 583.5,575.29 568.5,578.02 553.5,582.49 538.5,589.65 523.5,596.38 508.5,601.28" fill="#377EB8" fill-opacity="0.18"/>
<polygon points="508.5,579.2 523.5,577.83 538.5,575.66 553.5,569.63 568.5,554.77 583.5,534.92 598.5,515.62 598.5,570.84 583.5,574.26 568.5,578.27 553.5,584.4 538.5,593.76 523.5,601.26 508.5,605.61" fill="#4DAF4A" fill-opacity="0.18"/>
<polyline points="508.5,588.31 523.5,585.06 538.5,581.47 553.5,577.51 568.5,573.2 583.5,568.55 598.5,563.61" fill="none" stroke="#E6474C" stroke-width="0.62"/>
<polyline points="508.5,593.38 523.5,588.95 538.5,583.62 553.5,577.35 568.5,570.15 583.5,562.12 598.5,553.46" fill="none" stroke="#4A84BE" stroke-width="0.62"/>
<polyline points="508.5,597.65 523.5,592.63 538.5,586 553.5,577.58 568.5,567.37 583.5,555.69 598.5,543.18" fill="none" stroke="#52B04F" stroke-width="0.62"/>
</g>
<line x1="502.5" y1="583.5" x2="503.8" y2="583.5" stroke="#555" stroke-width="0.5"/>
<text x="490.87" y="585.3" font-size="5.15" text-anchor="start" fill="#4D4D4D" textLength="10.82" lengthAdjust="spacingAndGlyphs">20%</text>
<line x1="502.5" y1="556.8" x2="503.8" y2="556.8" stroke="#555" stroke-width="0.5"/>
<text x="490.87" y="558.6" font-size="5.15" text-anchor="start" fill="#4D4D4D" textLength="10.82" lengthAdjust="spacingAndGlyphs">40%</text>
<line x1="502.5" y1="530.1" x2="503.8" y2="530.1" stroke="#555" stroke-width="0.5"/>
<text x="490.87" y="531.9" font-size="5.15" text-anchor="start" fill="#4D4D4D" textLength="10.82" lengthAdjust="spacingAndGlyphs">60%</text>
<line x1="523.5" y1="610" x2="523.5" y2="611.3" stroke="#555" stroke-width="0.5"/>
<text x="520.6" y="615.8" font-size="5.2" text-anchor="start" fill="#4D4D4D" textLength="4.62" lengthAdjust="spacingAndGlyphs">-2</text>
<line x1="553.5" y1="610" x2="553.5" y2="611.3" stroke="#555" stroke-width="0.5"/>
<text x="552.04" y="615.8" font-size="5.2" text-anchor="start" fill="#4D4D4D" textLength="2.89" lengthAdjust="spacingAndGlyphs">0</text>
<line x1="583.5" y1="610" x2="583.5" y2="611.3" stroke="#555" stroke-width="0.5"/>
<text x="582.06" y="615.8" font-size="5.2" text-anchor="start" fill="#4D4D4D" textLength="2.89" lengthAdjust="spacingAndGlyphs">2</text>
<text x="547.73" y="621.7" font-size="6" text-anchor="start" fill="#444" textLength="11.62" lengthAdjust="spacingAndGlyphs">GRS</text>
<text x="508.39" y="524.7" font-size="9.42" text-anchor="start" fill="#000" font-weight="bold" textLength="29.7" lengthAdjust="spacingAndGlyphs">LNFP2</text>
</g>
<text x="-0.03" y="347.9" font-size="10.8" text-anchor="start" fill="#000" font-weight="bold" textLength="207.45" lengthAdjust="spacingAndGlyphs">c. All dyads breastfed ≥6 months (n=880)</text>
<text x="-0.03" y="491.7" font-size="10.8" text-anchor="start" fill="#000" font-weight="bold" textLength="307.93" lengthAdjust="spacingAndGlyphs">d. Dyads breastfed ≥6 months with secretor mothers (n=640)</text>
<text x="18.6" y="455.75" font-size="8.6" fill="#000" textLength="68.14" lengthAdjust="spacingAndGlyphs" transform="rotate(-90 18.6 455.75)">Recurrent Wheeze</text>
<text x="27.5" y="442.06" font-size="8.6" fill="#000" textLength="41.15" lengthAdjust="spacingAndGlyphs" transform="rotate(-90 27.5 442.06)">Prevalence</text>
<text x="18.2" y="600.97" font-size="8.6" fill="#000" textLength="69.36" lengthAdjust="spacingAndGlyphs" transform="rotate(-90 18.2 600.97)">Recurrent Wheeze</text>
<text x="26.7" y="586.76" font-size="8.6" fill="#000" textLength="41.46" lengthAdjust="spacingAndGlyphs" transform="rotate(-90 26.7 586.76)">Prevalence</text>
<text x="621.79" y="429.6" font-size="8.9" text-anchor="start" fill="#000" font-weight="bold" textLength="21.91" lengthAdjust="spacingAndGlyphs">HMO</text>
<text x="622" y="441" font-size="8.9" text-anchor="start" fill="#000" font-weight="bold" textLength="67.12" lengthAdjust="spacingAndGlyphs">Concentration</text>
<rect x="621.6" y="452.2" width="14.4" height="11.2" fill="#D6D6D6"/>
<rect x="622.1" y="452.7" width="13.4" height="10.2" fill="none" stroke="#E27077" stroke-width="1.0"/>
<line x1="622.6" y1="458.1" x2="635" y2="458.1" stroke="#D98A8E" stroke-width="0.9"/>
<text x="639.25" y="459.1" font-size="8.4" text-anchor="start" fill="#1A1A1A" textLength="17.14" lengthAdjust="spacingAndGlyphs">Low</text>
<rect x="621.6" y="463.4" width="14.4" height="11.4" fill="#D6D6D6"/>
<rect x="622.1" y="463.9" width="13.4" height="10.4" fill="none" stroke="#7FA3CF" stroke-width="1.0"/>
<line x1="622.6" y1="469.4" x2="635" y2="469.4" stroke="#8AA6C8" stroke-width="0.9"/>
<text x="639.26" y="473.1" font-size="8.4" text-anchor="start" fill="#1A1A1A" textLength="38.95" lengthAdjust="spacingAndGlyphs">Moderate</text>
<rect x="621.6" y="474.8" width="14.4" height="11.9" fill="#D6D6D6"/>
<rect x="622.1" y="475.3" width="13.4" height="10.9" fill="none" stroke="#93CC90" stroke-width="1.0"/>
<line x1="622.6" y1="481.05" x2="635" y2="481.05" stroke="#8FBF8C" stroke-width="0.9"/>
<text x="639.23" y="486.9" font-size="8.4" text-anchor="start" fill="#1A1A1A" textLength="19.81" lengthAdjust="spacingAndGlyphs">High</text>
<text x="622.42" y="504.8" font-size="8.9" text-anchor="start" fill="#000" font-weight="bold" textLength="53.18" lengthAdjust="spacingAndGlyphs">GRS x HMO</text>
<text x="622.18" y="515.6" font-size="8.9" text-anchor="start" fill="#000" font-weight="bold" textLength="53.83" lengthAdjust="spacingAndGlyphs">Interactions</text>
<text x="628.96" y="526.9" font-size="8.9" text-anchor="start" fill="#1A1A1A" textLength="36.53" lengthAdjust="spacingAndGlyphs">*P &lt;0.05</text>
<text x="625.56" y="538.5" font-size="8.9" text-anchor="start" fill="#1A1A1A" textLength="45.03" lengthAdjust="spacingAndGlyphs">**P &lt;0.005</text>
</svg>
</body></html>
